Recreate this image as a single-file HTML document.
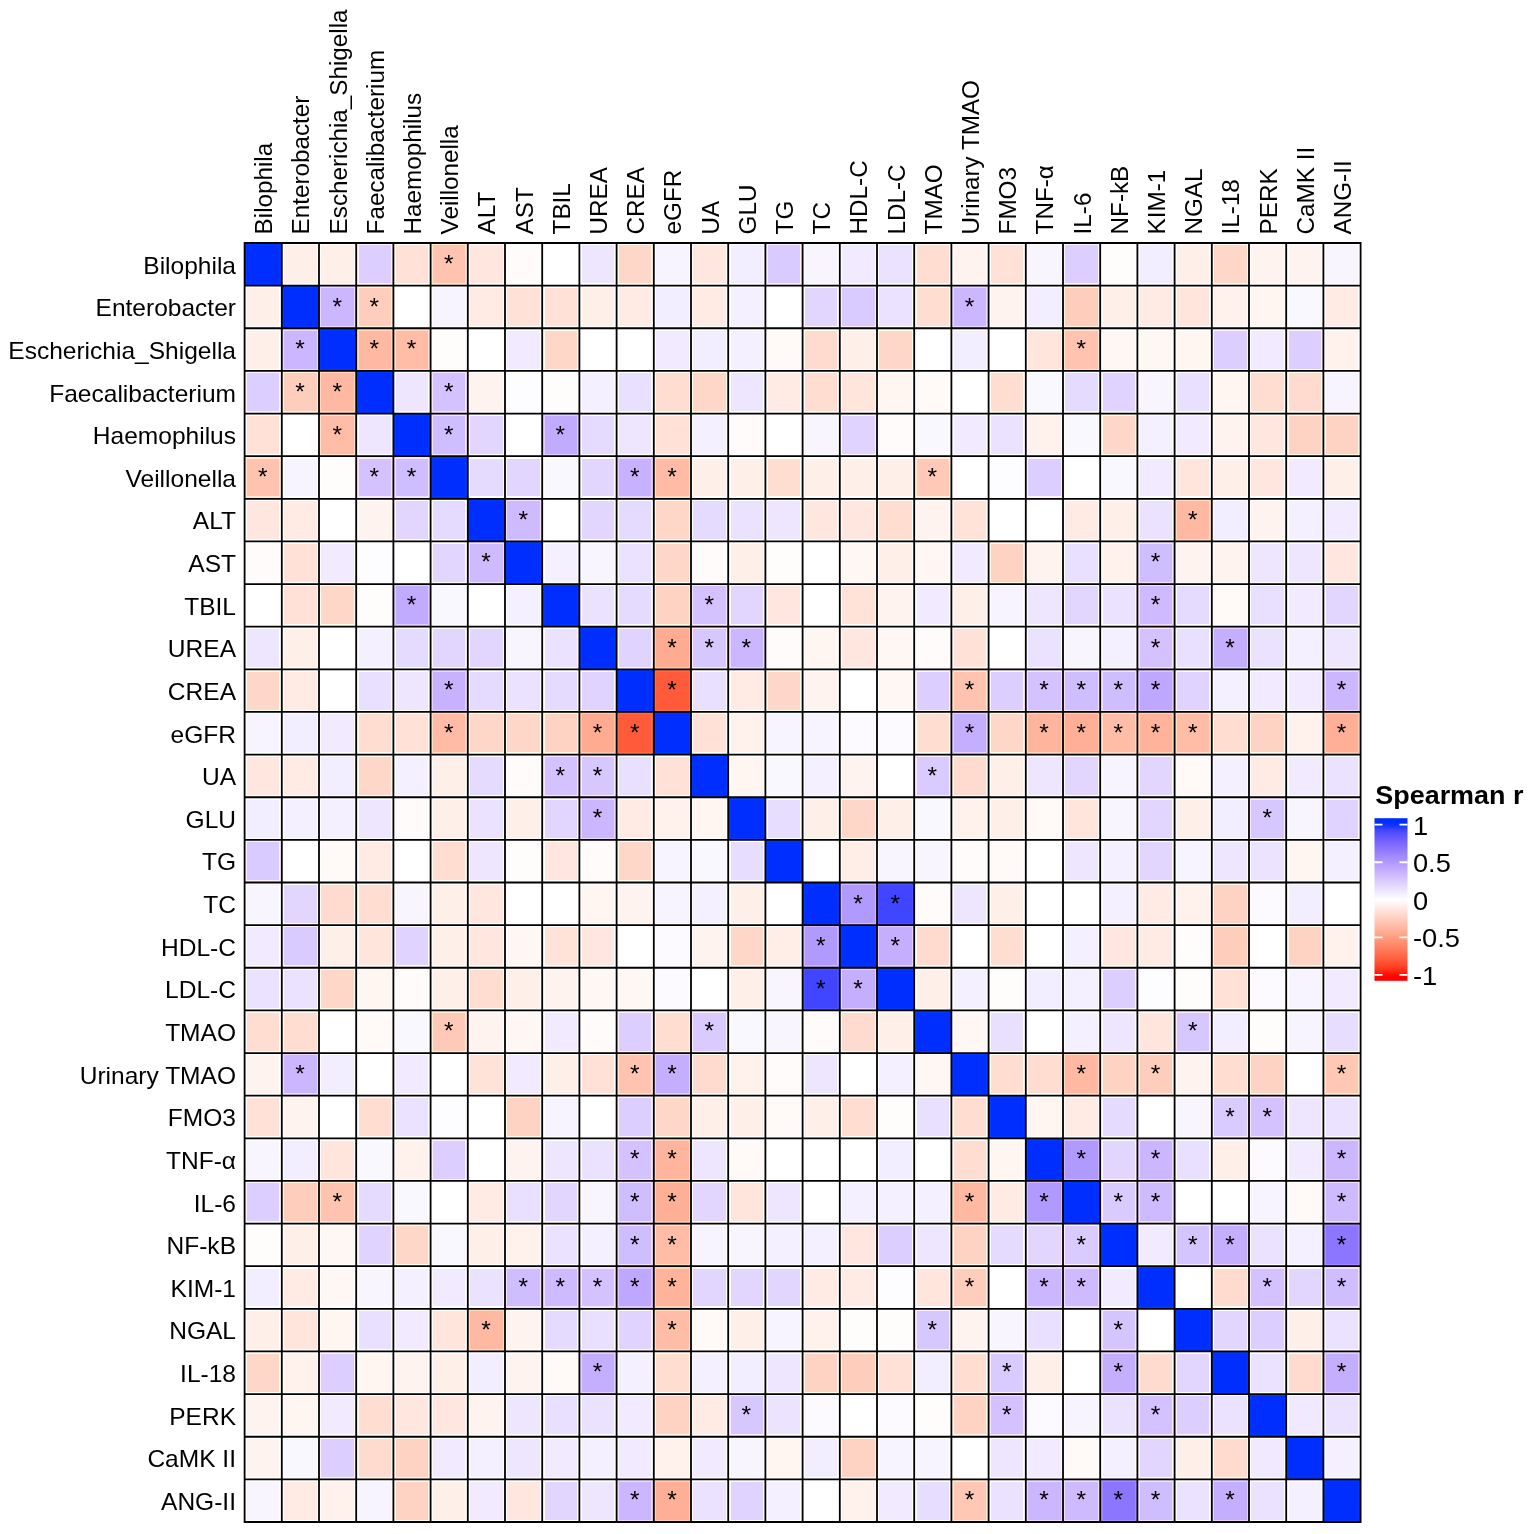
<!DOCTYPE html>
<html lang="en"><head><meta charset="utf-8"><title>Spearman correlation heatmap</title>
<style>html,body{margin:0;padding:0;background:#fff}body{width:1535px;height:1534px;overflow:hidden}svg{display:block}text{font-family:"Liberation Sans",Arial,Helvetica,sans-serif;fill:#000}</style></head><body>
<svg width="1535" height="1534" viewBox="0 0 1535 1534">
<rect width="1535" height="1534" fill="#fff"/>
<g shape-rendering="crispEdges">
<rect x="244.60" y="243.00" width="37.20" height="42.63" fill="#0036ff"/>
<rect x="246.95" y="245.35" width="32.50" height="37.93" fill="#002eff"/>
<rect x="281.80" y="243.00" width="37.20" height="42.63" fill="#ffffff"/>
<rect x="284.15" y="245.35" width="32.50" height="37.93" fill="#ffefe9"/>
<rect x="319.00" y="243.00" width="37.20" height="42.63" fill="#ffffff"/>
<rect x="321.35" y="245.35" width="32.50" height="37.93" fill="#ffefe9"/>
<rect x="356.20" y="243.00" width="37.20" height="42.63" fill="#fff3ff"/>
<rect x="358.55" y="245.35" width="32.50" height="37.93" fill="#dcceff"/>
<rect x="393.40" y="243.00" width="37.20" height="42.63" fill="#fffffe"/>
<rect x="395.75" y="245.35" width="32.50" height="37.93" fill="#ffe1d7"/>
<rect x="430.60" y="243.00" width="37.20" height="42.63" fill="#ffe6ce"/>
<rect x="432.95" y="245.35" width="32.50" height="37.93" fill="#ffc3af"/>
<rect x="467.80" y="243.00" width="37.20" height="42.63" fill="#ffffff"/>
<rect x="470.15" y="245.35" width="32.50" height="37.93" fill="#ffe7df"/>
<rect x="505.00" y="243.00" width="37.20" height="42.63" fill="#ffffff"/>
<rect x="507.35" y="245.35" width="32.50" height="37.93" fill="#fffbfa"/>
<rect x="579.40" y="243.00" width="37.20" height="42.63" fill="#ffffff"/>
<rect x="581.75" y="245.35" width="32.50" height="37.93" fill="#eee6ff"/>
<rect x="616.60" y="243.00" width="37.20" height="42.63" fill="#fffeed"/>
<rect x="618.95" y="245.35" width="32.50" height="37.93" fill="#ffd7c9"/>
<rect x="653.80" y="243.00" width="37.20" height="42.63" fill="#ffffff"/>
<rect x="656.15" y="245.35" width="32.50" height="37.93" fill="#f7f3ff"/>
<rect x="691.00" y="243.00" width="37.20" height="42.63" fill="#ffffff"/>
<rect x="693.35" y="245.35" width="32.50" height="37.93" fill="#ffe7df"/>
<rect x="728.20" y="243.00" width="37.20" height="42.63" fill="#ffffff"/>
<rect x="730.55" y="245.35" width="32.50" height="37.93" fill="#f3eeff"/>
<rect x="765.40" y="243.00" width="37.20" height="42.63" fill="#ffeeff"/>
<rect x="767.75" y="245.35" width="32.50" height="37.93" fill="#d9caff"/>
<rect x="802.60" y="243.00" width="37.20" height="42.63" fill="#ffffff"/>
<rect x="804.95" y="245.35" width="32.50" height="37.93" fill="#f8f5ff"/>
<rect x="839.80" y="243.00" width="37.20" height="42.63" fill="#ffffff"/>
<rect x="842.15" y="245.35" width="32.50" height="37.93" fill="#f2ebff"/>
<rect x="877.00" y="243.00" width="37.20" height="42.63" fill="#ffffff"/>
<rect x="879.35" y="245.35" width="32.50" height="37.93" fill="#ebe2ff"/>
<rect x="914.20" y="243.00" width="37.20" height="42.63" fill="#fffff7"/>
<rect x="916.55" y="245.35" width="32.50" height="37.93" fill="#ffddd1"/>
<rect x="951.40" y="243.00" width="37.20" height="42.63" fill="#ffffff"/>
<rect x="953.75" y="245.35" width="32.50" height="37.93" fill="#fff3ef"/>
<rect x="988.60" y="243.00" width="37.20" height="42.63" fill="#fffffe"/>
<rect x="990.95" y="245.35" width="32.50" height="37.93" fill="#ffe1d7"/>
<rect x="1025.80" y="243.00" width="37.20" height="42.63" fill="#ffffff"/>
<rect x="1028.15" y="245.35" width="32.50" height="37.93" fill="#f8f5ff"/>
<rect x="1063.00" y="243.00" width="37.20" height="42.63" fill="#fff3ff"/>
<rect x="1065.35" y="245.35" width="32.50" height="37.93" fill="#dcceff"/>
<rect x="1100.20" y="243.00" width="37.20" height="42.63" fill="#ffffff"/>
<rect x="1102.55" y="245.35" width="32.50" height="37.93" fill="#fffdfc"/>
<rect x="1137.40" y="243.00" width="37.20" height="42.63" fill="#ffffff"/>
<rect x="1139.75" y="245.35" width="32.50" height="37.93" fill="#f3eeff"/>
<rect x="1174.60" y="243.00" width="37.20" height="42.63" fill="#ffffff"/>
<rect x="1176.95" y="245.35" width="32.50" height="37.93" fill="#ffefe9"/>
<rect x="1211.80" y="243.00" width="37.20" height="42.63" fill="#fffeed"/>
<rect x="1214.15" y="245.35" width="32.50" height="37.93" fill="#ffd7c9"/>
<rect x="1249.00" y="243.00" width="37.20" height="42.63" fill="#ffffff"/>
<rect x="1251.35" y="245.35" width="32.50" height="37.93" fill="#fff3ef"/>
<rect x="1286.20" y="243.00" width="37.20" height="42.63" fill="#ffffff"/>
<rect x="1288.55" y="245.35" width="32.50" height="37.93" fill="#fff3ef"/>
<rect x="1323.40" y="243.00" width="37.20" height="42.63" fill="#ffffff"/>
<rect x="1325.75" y="245.35" width="32.50" height="37.93" fill="#f8f5ff"/>
<rect x="244.60" y="285.63" width="37.20" height="42.63" fill="#ffffff"/>
<rect x="246.95" y="287.98" width="32.50" height="37.93" fill="#ffefe9"/>
<rect x="281.80" y="285.63" width="37.20" height="42.63" fill="#0036ff"/>
<rect x="284.15" y="287.98" width="32.50" height="37.93" fill="#002eff"/>
<rect x="319.00" y="285.63" width="37.20" height="42.63" fill="#eed8ff"/>
<rect x="321.35" y="287.98" width="32.50" height="37.93" fill="#cab7ff"/>
<rect x="356.20" y="285.63" width="37.20" height="42.63" fill="#fff2de"/>
<rect x="358.55" y="287.98" width="32.50" height="37.93" fill="#ffcdbc"/>
<rect x="430.60" y="285.63" width="37.20" height="42.63" fill="#ffffff"/>
<rect x="432.95" y="287.98" width="32.50" height="37.93" fill="#f7f3ff"/>
<rect x="467.80" y="285.63" width="37.20" height="42.63" fill="#ffffff"/>
<rect x="470.15" y="287.98" width="32.50" height="37.93" fill="#ffebe4"/>
<rect x="505.00" y="285.63" width="37.20" height="42.63" fill="#fffffe"/>
<rect x="507.35" y="287.98" width="32.50" height="37.93" fill="#ffe1d7"/>
<rect x="542.20" y="285.63" width="37.20" height="42.63" fill="#fffffe"/>
<rect x="544.55" y="287.98" width="32.50" height="37.93" fill="#ffe1d7"/>
<rect x="579.40" y="285.63" width="37.20" height="42.63" fill="#ffffff"/>
<rect x="581.75" y="287.98" width="32.50" height="37.93" fill="#ffefe9"/>
<rect x="616.60" y="285.63" width="37.20" height="42.63" fill="#ffffff"/>
<rect x="618.95" y="287.98" width="32.50" height="37.93" fill="#ffebe4"/>
<rect x="653.80" y="285.63" width="37.20" height="42.63" fill="#ffffff"/>
<rect x="656.15" y="287.98" width="32.50" height="37.93" fill="#f3eeff"/>
<rect x="691.00" y="285.63" width="37.20" height="42.63" fill="#ffffff"/>
<rect x="693.35" y="287.98" width="32.50" height="37.93" fill="#ffebe4"/>
<rect x="728.20" y="285.63" width="37.20" height="42.63" fill="#ffffff"/>
<rect x="730.55" y="287.98" width="32.50" height="37.93" fill="#f5f0ff"/>
<rect x="802.60" y="285.63" width="37.20" height="42.63" fill="#fffdff"/>
<rect x="804.95" y="287.98" width="32.50" height="37.93" fill="#e2d6ff"/>
<rect x="839.80" y="285.63" width="37.20" height="42.63" fill="#ffeeff"/>
<rect x="842.15" y="287.98" width="32.50" height="37.93" fill="#d9caff"/>
<rect x="877.00" y="285.63" width="37.20" height="42.63" fill="#ffffff"/>
<rect x="879.35" y="287.98" width="32.50" height="37.93" fill="#ebe2ff"/>
<rect x="914.20" y="285.63" width="37.20" height="42.63" fill="#fffff7"/>
<rect x="916.55" y="287.98" width="32.50" height="37.93" fill="#ffddd1"/>
<rect x="951.40" y="285.63" width="37.20" height="42.63" fill="#eed8ff"/>
<rect x="953.75" y="287.98" width="32.50" height="37.93" fill="#cab7ff"/>
<rect x="988.60" y="285.63" width="37.20" height="42.63" fill="#ffffff"/>
<rect x="990.95" y="287.98" width="32.50" height="37.93" fill="#fff3ef"/>
<rect x="1025.80" y="285.63" width="37.20" height="42.63" fill="#ffffff"/>
<rect x="1028.15" y="287.98" width="32.50" height="37.93" fill="#f3eeff"/>
<rect x="1063.00" y="285.63" width="37.20" height="42.63" fill="#fff2de"/>
<rect x="1065.35" y="287.98" width="32.50" height="37.93" fill="#ffcdbc"/>
<rect x="1100.20" y="285.63" width="37.20" height="42.63" fill="#ffffff"/>
<rect x="1102.55" y="287.98" width="32.50" height="37.93" fill="#ffefe9"/>
<rect x="1137.40" y="285.63" width="37.20" height="42.63" fill="#ffffff"/>
<rect x="1139.75" y="287.98" width="32.50" height="37.93" fill="#ffebe4"/>
<rect x="1174.60" y="285.63" width="37.20" height="42.63" fill="#ffffff"/>
<rect x="1176.95" y="287.98" width="32.50" height="37.93" fill="#ffe5dc"/>
<rect x="1211.80" y="285.63" width="37.20" height="42.63" fill="#ffffff"/>
<rect x="1214.15" y="287.98" width="32.50" height="37.93" fill="#fff1ec"/>
<rect x="1249.00" y="285.63" width="37.20" height="42.63" fill="#ffffff"/>
<rect x="1251.35" y="287.98" width="32.50" height="37.93" fill="#fff5f1"/>
<rect x="1286.20" y="285.63" width="37.20" height="42.63" fill="#ffffff"/>
<rect x="1288.55" y="287.98" width="32.50" height="37.93" fill="#faf8ff"/>
<rect x="1323.40" y="285.63" width="37.20" height="42.63" fill="#ffffff"/>
<rect x="1325.75" y="287.98" width="32.50" height="37.93" fill="#ffebe4"/>
<rect x="244.60" y="328.27" width="37.20" height="42.63" fill="#ffffff"/>
<rect x="246.95" y="330.62" width="32.50" height="37.93" fill="#ffefe9"/>
<rect x="281.80" y="328.27" width="37.20" height="42.63" fill="#eed8ff"/>
<rect x="284.15" y="330.62" width="32.50" height="37.93" fill="#cab7ff"/>
<rect x="319.00" y="328.27" width="37.20" height="42.63" fill="#0036ff"/>
<rect x="321.35" y="330.62" width="32.50" height="37.93" fill="#002eff"/>
<rect x="356.20" y="328.27" width="37.20" height="42.63" fill="#ffdabf"/>
<rect x="358.55" y="330.62" width="32.50" height="37.93" fill="#ffb9a2"/>
<rect x="393.40" y="328.27" width="37.20" height="42.63" fill="#ffdfc5"/>
<rect x="395.75" y="330.62" width="32.50" height="37.93" fill="#ffbda7"/>
<rect x="430.60" y="328.27" width="37.20" height="42.63" fill="#ffffff"/>
<rect x="432.95" y="330.62" width="32.50" height="37.93" fill="#fffdfc"/>
<rect x="505.00" y="328.27" width="37.20" height="42.63" fill="#ffffff"/>
<rect x="507.35" y="330.62" width="32.50" height="37.93" fill="#f2ebff"/>
<rect x="542.20" y="328.27" width="37.20" height="42.63" fill="#fffeed"/>
<rect x="544.55" y="330.62" width="32.50" height="37.93" fill="#ffd7c9"/>
<rect x="653.80" y="328.27" width="37.20" height="42.63" fill="#ffffff"/>
<rect x="656.15" y="330.62" width="32.50" height="37.93" fill="#f2ebff"/>
<rect x="691.00" y="328.27" width="37.20" height="42.63" fill="#ffffff"/>
<rect x="693.35" y="330.62" width="32.50" height="37.93" fill="#f3eeff"/>
<rect x="728.20" y="328.27" width="37.20" height="42.63" fill="#ffffff"/>
<rect x="730.55" y="330.62" width="32.50" height="37.93" fill="#f5f0ff"/>
<rect x="765.40" y="328.27" width="37.20" height="42.63" fill="#ffffff"/>
<rect x="767.75" y="330.62" width="32.50" height="37.93" fill="#fff9f7"/>
<rect x="802.60" y="328.27" width="37.20" height="42.63" fill="#fffff4"/>
<rect x="804.95" y="330.62" width="32.50" height="37.93" fill="#ffdbcf"/>
<rect x="839.80" y="328.27" width="37.20" height="42.63" fill="#ffffff"/>
<rect x="842.15" y="330.62" width="32.50" height="37.93" fill="#ffefe9"/>
<rect x="877.00" y="328.27" width="37.20" height="42.63" fill="#fffeed"/>
<rect x="879.35" y="330.62" width="32.50" height="37.93" fill="#ffd7c9"/>
<rect x="951.40" y="328.27" width="37.20" height="42.63" fill="#ffffff"/>
<rect x="953.75" y="330.62" width="32.50" height="37.93" fill="#f3eeff"/>
<rect x="1025.80" y="328.27" width="37.20" height="42.63" fill="#ffffff"/>
<rect x="1028.15" y="330.62" width="32.50" height="37.93" fill="#ffe5dc"/>
<rect x="1063.00" y="328.27" width="37.20" height="42.63" fill="#ffe6ce"/>
<rect x="1065.35" y="330.62" width="32.50" height="37.93" fill="#ffc3af"/>
<rect x="1100.20" y="328.27" width="37.20" height="42.63" fill="#ffffff"/>
<rect x="1102.55" y="330.62" width="32.50" height="37.93" fill="#fff7f4"/>
<rect x="1137.40" y="328.27" width="37.20" height="42.63" fill="#ffffff"/>
<rect x="1139.75" y="330.62" width="32.50" height="37.93" fill="#fff7f4"/>
<rect x="1174.60" y="328.27" width="37.20" height="42.63" fill="#ffffff"/>
<rect x="1176.95" y="330.62" width="32.50" height="37.93" fill="#fff5f1"/>
<rect x="1211.80" y="328.27" width="37.20" height="42.63" fill="#fff3ff"/>
<rect x="1214.15" y="330.62" width="32.50" height="37.93" fill="#dcceff"/>
<rect x="1249.00" y="328.27" width="37.20" height="42.63" fill="#ffffff"/>
<rect x="1251.35" y="330.62" width="32.50" height="37.93" fill="#f2ebff"/>
<rect x="1286.20" y="328.27" width="37.20" height="42.63" fill="#fff3ff"/>
<rect x="1288.55" y="330.62" width="32.50" height="37.93" fill="#dcceff"/>
<rect x="1323.40" y="328.27" width="37.20" height="42.63" fill="#ffffff"/>
<rect x="1325.75" y="330.62" width="32.50" height="37.93" fill="#fff1ec"/>
<rect x="244.60" y="370.90" width="37.20" height="42.63" fill="#fff3ff"/>
<rect x="246.95" y="373.25" width="32.50" height="37.93" fill="#dcceff"/>
<rect x="281.80" y="370.90" width="37.20" height="42.63" fill="#fff2de"/>
<rect x="284.15" y="373.25" width="32.50" height="37.93" fill="#ffcdbc"/>
<rect x="319.00" y="370.90" width="37.20" height="42.63" fill="#ffdabf"/>
<rect x="321.35" y="373.25" width="32.50" height="37.93" fill="#ffb9a2"/>
<rect x="356.20" y="370.90" width="37.20" height="42.63" fill="#0036ff"/>
<rect x="358.55" y="373.25" width="32.50" height="37.93" fill="#002eff"/>
<rect x="393.40" y="370.90" width="37.20" height="42.63" fill="#ffffff"/>
<rect x="395.75" y="373.25" width="32.50" height="37.93" fill="#eee6ff"/>
<rect x="430.60" y="370.90" width="37.20" height="42.63" fill="#f9e5ff"/>
<rect x="432.95" y="373.25" width="32.50" height="37.93" fill="#d3c2ff"/>
<rect x="467.80" y="370.90" width="37.20" height="42.63" fill="#ffffff"/>
<rect x="470.15" y="373.25" width="32.50" height="37.93" fill="#fff3ef"/>
<rect x="505.00" y="370.90" width="37.20" height="42.63" fill="#ffffff"/>
<rect x="507.35" y="373.25" width="32.50" height="37.93" fill="#fdfdff"/>
<rect x="542.20" y="370.90" width="37.20" height="42.63" fill="#ffffff"/>
<rect x="544.55" y="373.25" width="32.50" height="37.93" fill="#fffdfc"/>
<rect x="579.40" y="370.90" width="37.20" height="42.63" fill="#ffffff"/>
<rect x="581.75" y="373.25" width="32.50" height="37.93" fill="#f5f0ff"/>
<rect x="616.60" y="370.90" width="37.20" height="42.63" fill="#ffffff"/>
<rect x="618.95" y="373.25" width="32.50" height="37.93" fill="#e9dfff"/>
<rect x="653.80" y="370.90" width="37.20" height="42.63" fill="#fffff7"/>
<rect x="656.15" y="373.25" width="32.50" height="37.93" fill="#ffddd1"/>
<rect x="691.00" y="370.90" width="37.20" height="42.63" fill="#fffeed"/>
<rect x="693.35" y="373.25" width="32.50" height="37.93" fill="#ffd7c9"/>
<rect x="728.20" y="370.90" width="37.20" height="42.63" fill="#ffffff"/>
<rect x="730.55" y="373.25" width="32.50" height="37.93" fill="#eee6ff"/>
<rect x="765.40" y="370.90" width="37.20" height="42.63" fill="#ffffff"/>
<rect x="767.75" y="373.25" width="32.50" height="37.93" fill="#ffebe4"/>
<rect x="802.60" y="370.90" width="37.20" height="42.63" fill="#fffff7"/>
<rect x="804.95" y="373.25" width="32.50" height="37.93" fill="#ffddd1"/>
<rect x="839.80" y="370.90" width="37.20" height="42.63" fill="#ffffff"/>
<rect x="842.15" y="373.25" width="32.50" height="37.93" fill="#ffe5dc"/>
<rect x="877.00" y="370.90" width="37.20" height="42.63" fill="#ffffff"/>
<rect x="879.35" y="373.25" width="32.50" height="37.93" fill="#fff5f1"/>
<rect x="914.20" y="370.90" width="37.20" height="42.63" fill="#ffffff"/>
<rect x="916.55" y="373.25" width="32.50" height="37.93" fill="#fff9f7"/>
<rect x="988.60" y="370.90" width="37.20" height="42.63" fill="#fffff7"/>
<rect x="990.95" y="373.25" width="32.50" height="37.93" fill="#ffddd1"/>
<rect x="1025.80" y="370.90" width="37.20" height="42.63" fill="#ffffff"/>
<rect x="1028.15" y="373.25" width="32.50" height="37.93" fill="#faf8ff"/>
<rect x="1063.00" y="370.90" width="37.20" height="42.63" fill="#ffffff"/>
<rect x="1065.35" y="373.25" width="32.50" height="37.93" fill="#e5daff"/>
<rect x="1100.20" y="370.90" width="37.20" height="42.63" fill="#fff9ff"/>
<rect x="1102.55" y="373.25" width="32.50" height="37.93" fill="#e0d3ff"/>
<rect x="1137.40" y="370.90" width="37.20" height="42.63" fill="#ffffff"/>
<rect x="1139.75" y="373.25" width="32.50" height="37.93" fill="#f8f5ff"/>
<rect x="1174.60" y="370.90" width="37.20" height="42.63" fill="#ffffff"/>
<rect x="1176.95" y="373.25" width="32.50" height="37.93" fill="#e9dfff"/>
<rect x="1211.80" y="370.90" width="37.20" height="42.63" fill="#ffffff"/>
<rect x="1214.15" y="373.25" width="32.50" height="37.93" fill="#fff5f1"/>
<rect x="1249.00" y="370.90" width="37.20" height="42.63" fill="#fffff7"/>
<rect x="1251.35" y="373.25" width="32.50" height="37.93" fill="#ffddd1"/>
<rect x="1286.20" y="370.90" width="37.20" height="42.63" fill="#fffff4"/>
<rect x="1288.55" y="373.25" width="32.50" height="37.93" fill="#ffdbcf"/>
<rect x="1323.40" y="370.90" width="37.20" height="42.63" fill="#ffffff"/>
<rect x="1325.75" y="373.25" width="32.50" height="37.93" fill="#f7f3ff"/>
<rect x="244.60" y="413.53" width="37.20" height="42.63" fill="#fffffe"/>
<rect x="246.95" y="415.88" width="32.50" height="37.93" fill="#ffe1d7"/>
<rect x="319.00" y="413.53" width="37.20" height="42.63" fill="#ffdfc5"/>
<rect x="321.35" y="415.88" width="32.50" height="37.93" fill="#ffbda7"/>
<rect x="356.20" y="413.53" width="37.20" height="42.63" fill="#ffffff"/>
<rect x="358.55" y="415.88" width="32.50" height="37.93" fill="#eee6ff"/>
<rect x="393.40" y="413.53" width="37.20" height="42.63" fill="#0036ff"/>
<rect x="395.75" y="415.88" width="32.50" height="37.93" fill="#002eff"/>
<rect x="430.60" y="413.53" width="37.20" height="42.63" fill="#f4e0ff"/>
<rect x="432.95" y="415.88" width="32.50" height="37.93" fill="#cfbeff"/>
<rect x="467.80" y="413.53" width="37.20" height="42.63" fill="#fffdff"/>
<rect x="470.15" y="415.88" width="32.50" height="37.93" fill="#e2d6ff"/>
<rect x="542.20" y="413.53" width="37.20" height="42.63" fill="#e3caff"/>
<rect x="544.55" y="415.88" width="32.50" height="37.93" fill="#c0abff"/>
<rect x="579.40" y="413.53" width="37.20" height="42.63" fill="#ffffff"/>
<rect x="581.75" y="415.88" width="32.50" height="37.93" fill="#e5daff"/>
<rect x="616.60" y="413.53" width="37.20" height="42.63" fill="#ffffff"/>
<rect x="618.95" y="415.88" width="32.50" height="37.93" fill="#eee6ff"/>
<rect x="653.80" y="413.53" width="37.20" height="42.63" fill="#fffffe"/>
<rect x="656.15" y="415.88" width="32.50" height="37.93" fill="#ffe1d7"/>
<rect x="691.00" y="413.53" width="37.20" height="42.63" fill="#ffffff"/>
<rect x="693.35" y="415.88" width="32.50" height="37.93" fill="#f5f0ff"/>
<rect x="728.20" y="413.53" width="37.20" height="42.63" fill="#ffffff"/>
<rect x="730.55" y="415.88" width="32.50" height="37.93" fill="#fffbfa"/>
<rect x="802.60" y="413.53" width="37.20" height="42.63" fill="#ffffff"/>
<rect x="804.95" y="415.88" width="32.50" height="37.93" fill="#f8f5ff"/>
<rect x="839.80" y="413.53" width="37.20" height="42.63" fill="#fff9ff"/>
<rect x="842.15" y="415.88" width="32.50" height="37.93" fill="#e0d3ff"/>
<rect x="877.00" y="413.53" width="37.20" height="42.63" fill="#ffffff"/>
<rect x="879.35" y="415.88" width="32.50" height="37.93" fill="#fffbfa"/>
<rect x="914.20" y="413.53" width="37.20" height="42.63" fill="#ffffff"/>
<rect x="916.55" y="415.88" width="32.50" height="37.93" fill="#faf8ff"/>
<rect x="951.40" y="413.53" width="37.20" height="42.63" fill="#ffffff"/>
<rect x="953.75" y="415.88" width="32.50" height="37.93" fill="#f2ebff"/>
<rect x="988.60" y="413.53" width="37.20" height="42.63" fill="#ffffff"/>
<rect x="990.95" y="415.88" width="32.50" height="37.93" fill="#ebe2ff"/>
<rect x="1025.80" y="413.53" width="37.20" height="42.63" fill="#ffffff"/>
<rect x="1028.15" y="415.88" width="32.50" height="37.93" fill="#fff1ec"/>
<rect x="1063.00" y="413.53" width="37.20" height="42.63" fill="#ffffff"/>
<rect x="1065.35" y="415.88" width="32.50" height="37.93" fill="#faf8ff"/>
<rect x="1100.20" y="413.53" width="37.20" height="42.63" fill="#fffeed"/>
<rect x="1102.55" y="415.88" width="32.50" height="37.93" fill="#ffd7c9"/>
<rect x="1137.40" y="413.53" width="37.20" height="42.63" fill="#ffffff"/>
<rect x="1139.75" y="415.88" width="32.50" height="37.93" fill="#f5f0ff"/>
<rect x="1174.60" y="413.53" width="37.20" height="42.63" fill="#ffffff"/>
<rect x="1176.95" y="415.88" width="32.50" height="37.93" fill="#f2ebff"/>
<rect x="1211.80" y="413.53" width="37.20" height="42.63" fill="#ffffff"/>
<rect x="1214.15" y="415.88" width="32.50" height="37.93" fill="#fff3ef"/>
<rect x="1249.00" y="413.53" width="37.20" height="42.63" fill="#ffffff"/>
<rect x="1251.35" y="415.88" width="32.50" height="37.93" fill="#ffe7df"/>
<rect x="1286.20" y="413.53" width="37.20" height="42.63" fill="#fff9e7"/>
<rect x="1288.55" y="415.88" width="32.50" height="37.93" fill="#ffd3c4"/>
<rect x="1323.40" y="413.53" width="37.20" height="42.63" fill="#fff9e7"/>
<rect x="1325.75" y="415.88" width="32.50" height="37.93" fill="#ffd3c4"/>
<rect x="244.60" y="456.17" width="37.20" height="42.63" fill="#ffe6ce"/>
<rect x="246.95" y="458.52" width="32.50" height="37.93" fill="#ffc3af"/>
<rect x="281.80" y="456.17" width="37.20" height="42.63" fill="#ffffff"/>
<rect x="284.15" y="458.52" width="32.50" height="37.93" fill="#f7f3ff"/>
<rect x="319.00" y="456.17" width="37.20" height="42.63" fill="#ffffff"/>
<rect x="321.35" y="458.52" width="32.50" height="37.93" fill="#fffdfc"/>
<rect x="356.20" y="456.17" width="37.20" height="42.63" fill="#f9e5ff"/>
<rect x="358.55" y="458.52" width="32.50" height="37.93" fill="#d3c2ff"/>
<rect x="393.40" y="456.17" width="37.20" height="42.63" fill="#f4e0ff"/>
<rect x="395.75" y="458.52" width="32.50" height="37.93" fill="#cfbeff"/>
<rect x="430.60" y="456.17" width="37.20" height="42.63" fill="#0036ff"/>
<rect x="432.95" y="458.52" width="32.50" height="37.93" fill="#002eff"/>
<rect x="467.80" y="456.17" width="37.20" height="42.63" fill="#ffffff"/>
<rect x="470.15" y="458.52" width="32.50" height="37.93" fill="#e5daff"/>
<rect x="505.00" y="456.17" width="37.20" height="42.63" fill="#fffdff"/>
<rect x="507.35" y="458.52" width="32.50" height="37.93" fill="#e2d6ff"/>
<rect x="542.20" y="456.17" width="37.20" height="42.63" fill="#ffffff"/>
<rect x="544.55" y="458.52" width="32.50" height="37.93" fill="#faf8ff"/>
<rect x="579.40" y="456.17" width="37.20" height="42.63" fill="#fffdff"/>
<rect x="581.75" y="458.52" width="32.50" height="37.93" fill="#e2d6ff"/>
<rect x="616.60" y="456.17" width="37.20" height="42.63" fill="#ead2ff"/>
<rect x="618.95" y="458.52" width="32.50" height="37.93" fill="#c6b2ff"/>
<rect x="653.80" y="456.17" width="37.20" height="42.63" fill="#ffddc3"/>
<rect x="656.15" y="458.52" width="32.50" height="37.93" fill="#ffbba5"/>
<rect x="691.00" y="456.17" width="37.20" height="42.63" fill="#ffffff"/>
<rect x="693.35" y="458.52" width="32.50" height="37.93" fill="#ffefe9"/>
<rect x="728.20" y="456.17" width="37.20" height="42.63" fill="#ffffff"/>
<rect x="730.55" y="458.52" width="32.50" height="37.93" fill="#ffefe9"/>
<rect x="765.40" y="456.17" width="37.20" height="42.63" fill="#fffff7"/>
<rect x="767.75" y="458.52" width="32.50" height="37.93" fill="#ffddd1"/>
<rect x="802.60" y="456.17" width="37.20" height="42.63" fill="#ffffff"/>
<rect x="804.95" y="458.52" width="32.50" height="37.93" fill="#ffefe9"/>
<rect x="839.80" y="456.17" width="37.20" height="42.63" fill="#ffffff"/>
<rect x="842.15" y="458.52" width="32.50" height="37.93" fill="#ffefe9"/>
<rect x="877.00" y="456.17" width="37.20" height="42.63" fill="#ffffff"/>
<rect x="879.35" y="458.52" width="32.50" height="37.93" fill="#ffefe9"/>
<rect x="914.20" y="456.17" width="37.20" height="42.63" fill="#ffedd8"/>
<rect x="916.55" y="458.52" width="32.50" height="37.93" fill="#ffc9b7"/>
<rect x="988.60" y="456.17" width="37.20" height="42.63" fill="#ffffff"/>
<rect x="990.95" y="458.52" width="32.50" height="37.93" fill="#fdfdff"/>
<rect x="1025.80" y="456.17" width="37.20" height="42.63" fill="#fff3ff"/>
<rect x="1028.15" y="458.52" width="32.50" height="37.93" fill="#dcceff"/>
<rect x="1100.20" y="456.17" width="37.20" height="42.63" fill="#ffffff"/>
<rect x="1102.55" y="458.52" width="32.50" height="37.93" fill="#faf8ff"/>
<rect x="1137.40" y="456.17" width="37.20" height="42.63" fill="#ffffff"/>
<rect x="1139.75" y="458.52" width="32.50" height="37.93" fill="#f2ebff"/>
<rect x="1174.60" y="456.17" width="37.20" height="42.63" fill="#ffffff"/>
<rect x="1176.95" y="458.52" width="32.50" height="37.93" fill="#ffe5dc"/>
<rect x="1211.80" y="456.17" width="37.20" height="42.63" fill="#ffffff"/>
<rect x="1214.15" y="458.52" width="32.50" height="37.93" fill="#ffefe9"/>
<rect x="1249.00" y="456.17" width="37.20" height="42.63" fill="#ffffff"/>
<rect x="1251.35" y="458.52" width="32.50" height="37.93" fill="#ffe7df"/>
<rect x="1286.20" y="456.17" width="37.20" height="42.63" fill="#ffffff"/>
<rect x="1288.55" y="458.52" width="32.50" height="37.93" fill="#f2ebff"/>
<rect x="1323.40" y="456.17" width="37.20" height="42.63" fill="#ffffff"/>
<rect x="1325.75" y="458.52" width="32.50" height="37.93" fill="#ffefe9"/>
<rect x="244.60" y="498.80" width="37.20" height="42.63" fill="#ffffff"/>
<rect x="246.95" y="501.15" width="32.50" height="37.93" fill="#ffe7df"/>
<rect x="281.80" y="498.80" width="37.20" height="42.63" fill="#ffffff"/>
<rect x="284.15" y="501.15" width="32.50" height="37.93" fill="#ffebe4"/>
<rect x="356.20" y="498.80" width="37.20" height="42.63" fill="#ffffff"/>
<rect x="358.55" y="501.15" width="32.50" height="37.93" fill="#fff3ef"/>
<rect x="393.40" y="498.80" width="37.20" height="42.63" fill="#fffdff"/>
<rect x="395.75" y="501.15" width="32.50" height="37.93" fill="#e2d6ff"/>
<rect x="430.60" y="498.80" width="37.20" height="42.63" fill="#ffffff"/>
<rect x="432.95" y="501.15" width="32.50" height="37.93" fill="#e5daff"/>
<rect x="467.80" y="498.80" width="37.20" height="42.63" fill="#0036ff"/>
<rect x="470.15" y="501.15" width="32.50" height="37.93" fill="#002eff"/>
<rect x="505.00" y="498.80" width="37.20" height="42.63" fill="#f3ddff"/>
<rect x="507.35" y="501.15" width="32.50" height="37.93" fill="#cebbff"/>
<rect x="579.40" y="498.80" width="37.20" height="42.63" fill="#fffdff"/>
<rect x="581.75" y="501.15" width="32.50" height="37.93" fill="#e2d6ff"/>
<rect x="616.60" y="498.80" width="37.20" height="42.63" fill="#ffffff"/>
<rect x="618.95" y="501.15" width="32.50" height="37.93" fill="#e5daff"/>
<rect x="653.80" y="498.80" width="37.20" height="42.63" fill="#fffeed"/>
<rect x="656.15" y="501.15" width="32.50" height="37.93" fill="#ffd7c9"/>
<rect x="691.00" y="498.80" width="37.20" height="42.63" fill="#ffffff"/>
<rect x="693.35" y="501.15" width="32.50" height="37.93" fill="#e5daff"/>
<rect x="728.20" y="498.80" width="37.20" height="42.63" fill="#ffffff"/>
<rect x="730.55" y="501.15" width="32.50" height="37.93" fill="#ebe2ff"/>
<rect x="765.40" y="498.80" width="37.20" height="42.63" fill="#ffffff"/>
<rect x="767.75" y="501.15" width="32.50" height="37.93" fill="#eee6ff"/>
<rect x="802.60" y="498.80" width="37.20" height="42.63" fill="#ffffff"/>
<rect x="804.95" y="501.15" width="32.50" height="37.93" fill="#ffe7df"/>
<rect x="839.80" y="498.80" width="37.20" height="42.63" fill="#ffffff"/>
<rect x="842.15" y="501.15" width="32.50" height="37.93" fill="#ffe7df"/>
<rect x="877.00" y="498.80" width="37.20" height="42.63" fill="#fffff7"/>
<rect x="879.35" y="501.15" width="32.50" height="37.93" fill="#ffddd1"/>
<rect x="914.20" y="498.80" width="37.20" height="42.63" fill="#ffffff"/>
<rect x="916.55" y="501.15" width="32.50" height="37.93" fill="#fff3ef"/>
<rect x="951.40" y="498.80" width="37.20" height="42.63" fill="#ffffff"/>
<rect x="953.75" y="501.15" width="32.50" height="37.93" fill="#ffe3d9"/>
<rect x="1063.00" y="498.80" width="37.20" height="42.63" fill="#ffffff"/>
<rect x="1065.35" y="501.15" width="32.50" height="37.93" fill="#ffebe4"/>
<rect x="1100.20" y="498.80" width="37.20" height="42.63" fill="#ffffff"/>
<rect x="1102.55" y="501.15" width="32.50" height="37.93" fill="#ffefe9"/>
<rect x="1137.40" y="498.80" width="37.20" height="42.63" fill="#ffffff"/>
<rect x="1139.75" y="501.15" width="32.50" height="37.93" fill="#ebe2ff"/>
<rect x="1174.60" y="498.80" width="37.20" height="42.63" fill="#ffdabf"/>
<rect x="1176.95" y="501.15" width="32.50" height="37.93" fill="#ffb9a2"/>
<rect x="1211.80" y="498.80" width="37.20" height="42.63" fill="#ffffff"/>
<rect x="1214.15" y="501.15" width="32.50" height="37.93" fill="#f3eeff"/>
<rect x="1249.00" y="498.80" width="37.20" height="42.63" fill="#ffffff"/>
<rect x="1251.35" y="501.15" width="32.50" height="37.93" fill="#fff3ef"/>
<rect x="1286.20" y="498.80" width="37.20" height="42.63" fill="#ffffff"/>
<rect x="1288.55" y="501.15" width="32.50" height="37.93" fill="#f5f0ff"/>
<rect x="1323.40" y="498.80" width="37.20" height="42.63" fill="#ffffff"/>
<rect x="1325.75" y="501.15" width="32.50" height="37.93" fill="#f2ebff"/>
<rect x="244.60" y="541.43" width="37.20" height="42.63" fill="#ffffff"/>
<rect x="246.95" y="543.78" width="32.50" height="37.93" fill="#fffbfa"/>
<rect x="281.80" y="541.43" width="37.20" height="42.63" fill="#fffffe"/>
<rect x="284.15" y="543.78" width="32.50" height="37.93" fill="#ffe1d7"/>
<rect x="319.00" y="541.43" width="37.20" height="42.63" fill="#ffffff"/>
<rect x="321.35" y="543.78" width="32.50" height="37.93" fill="#f2ebff"/>
<rect x="356.20" y="541.43" width="37.20" height="42.63" fill="#ffffff"/>
<rect x="358.55" y="543.78" width="32.50" height="37.93" fill="#fdfdff"/>
<rect x="430.60" y="541.43" width="37.20" height="42.63" fill="#fffdff"/>
<rect x="432.95" y="543.78" width="32.50" height="37.93" fill="#e2d6ff"/>
<rect x="467.80" y="541.43" width="37.20" height="42.63" fill="#f3ddff"/>
<rect x="470.15" y="543.78" width="32.50" height="37.93" fill="#cebbff"/>
<rect x="505.00" y="541.43" width="37.20" height="42.63" fill="#0036ff"/>
<rect x="507.35" y="543.78" width="32.50" height="37.93" fill="#002eff"/>
<rect x="542.20" y="541.43" width="37.20" height="42.63" fill="#ffffff"/>
<rect x="544.55" y="543.78" width="32.50" height="37.93" fill="#f5f0ff"/>
<rect x="579.40" y="541.43" width="37.20" height="42.63" fill="#ffffff"/>
<rect x="581.75" y="543.78" width="32.50" height="37.93" fill="#f8f5ff"/>
<rect x="616.60" y="541.43" width="37.20" height="42.63" fill="#ffffff"/>
<rect x="618.95" y="543.78" width="32.50" height="37.93" fill="#ebe2ff"/>
<rect x="653.80" y="541.43" width="37.20" height="42.63" fill="#fffeed"/>
<rect x="656.15" y="543.78" width="32.50" height="37.93" fill="#ffd7c9"/>
<rect x="691.00" y="541.43" width="37.20" height="42.63" fill="#ffffff"/>
<rect x="693.35" y="543.78" width="32.50" height="37.93" fill="#fffbfa"/>
<rect x="728.20" y="541.43" width="37.20" height="42.63" fill="#ffffff"/>
<rect x="730.55" y="543.78" width="32.50" height="37.93" fill="#ffefe9"/>
<rect x="765.40" y="541.43" width="37.20" height="42.63" fill="#ffffff"/>
<rect x="767.75" y="543.78" width="32.50" height="37.93" fill="#fffdfc"/>
<rect x="839.80" y="541.43" width="37.20" height="42.63" fill="#ffffff"/>
<rect x="842.15" y="543.78" width="32.50" height="37.93" fill="#fff7f4"/>
<rect x="877.00" y="541.43" width="37.20" height="42.63" fill="#ffffff"/>
<rect x="879.35" y="543.78" width="32.50" height="37.93" fill="#ffefe9"/>
<rect x="914.20" y="541.43" width="37.20" height="42.63" fill="#ffffff"/>
<rect x="916.55" y="543.78" width="32.50" height="37.93" fill="#fff7f4"/>
<rect x="951.40" y="541.43" width="37.20" height="42.63" fill="#ffffff"/>
<rect x="953.75" y="543.78" width="32.50" height="37.93" fill="#f2ebff"/>
<rect x="988.60" y="541.43" width="37.20" height="42.63" fill="#fff9e7"/>
<rect x="990.95" y="543.78" width="32.50" height="37.93" fill="#ffd3c4"/>
<rect x="1025.80" y="541.43" width="37.20" height="42.63" fill="#ffffff"/>
<rect x="1028.15" y="543.78" width="32.50" height="37.93" fill="#fff3ef"/>
<rect x="1063.00" y="541.43" width="37.20" height="42.63" fill="#ffffff"/>
<rect x="1065.35" y="543.78" width="32.50" height="37.93" fill="#e9dfff"/>
<rect x="1100.20" y="541.43" width="37.20" height="42.63" fill="#ffffff"/>
<rect x="1102.55" y="543.78" width="32.50" height="37.93" fill="#fff1ec"/>
<rect x="1137.40" y="541.43" width="37.20" height="42.63" fill="#f4e0ff"/>
<rect x="1139.75" y="543.78" width="32.50" height="37.93" fill="#cfbeff"/>
<rect x="1174.60" y="541.43" width="37.20" height="42.63" fill="#ffffff"/>
<rect x="1176.95" y="543.78" width="32.50" height="37.93" fill="#fff3ef"/>
<rect x="1211.80" y="541.43" width="37.20" height="42.63" fill="#ffffff"/>
<rect x="1214.15" y="543.78" width="32.50" height="37.93" fill="#fff3ef"/>
<rect x="1249.00" y="541.43" width="37.20" height="42.63" fill="#ffffff"/>
<rect x="1251.35" y="543.78" width="32.50" height="37.93" fill="#eee6ff"/>
<rect x="1286.20" y="541.43" width="37.20" height="42.63" fill="#ffffff"/>
<rect x="1288.55" y="543.78" width="32.50" height="37.93" fill="#eee6ff"/>
<rect x="1323.40" y="541.43" width="37.20" height="42.63" fill="#ffffff"/>
<rect x="1325.75" y="543.78" width="32.50" height="37.93" fill="#ffe7df"/>
<rect x="281.80" y="584.07" width="37.20" height="42.63" fill="#fffffe"/>
<rect x="284.15" y="586.42" width="32.50" height="37.93" fill="#ffe1d7"/>
<rect x="319.00" y="584.07" width="37.20" height="42.63" fill="#fffeed"/>
<rect x="321.35" y="586.42" width="32.50" height="37.93" fill="#ffd7c9"/>
<rect x="356.20" y="584.07" width="37.20" height="42.63" fill="#ffffff"/>
<rect x="358.55" y="586.42" width="32.50" height="37.93" fill="#fffdfc"/>
<rect x="393.40" y="584.07" width="37.20" height="42.63" fill="#e3caff"/>
<rect x="395.75" y="586.42" width="32.50" height="37.93" fill="#c0abff"/>
<rect x="430.60" y="584.07" width="37.20" height="42.63" fill="#ffffff"/>
<rect x="432.95" y="586.42" width="32.50" height="37.93" fill="#faf8ff"/>
<rect x="505.00" y="584.07" width="37.20" height="42.63" fill="#ffffff"/>
<rect x="507.35" y="586.42" width="32.50" height="37.93" fill="#f5f0ff"/>
<rect x="542.20" y="584.07" width="37.20" height="42.63" fill="#0036ff"/>
<rect x="544.55" y="586.42" width="32.50" height="37.93" fill="#002eff"/>
<rect x="579.40" y="584.07" width="37.20" height="42.63" fill="#ffffff"/>
<rect x="581.75" y="586.42" width="32.50" height="37.93" fill="#ebe2ff"/>
<rect x="616.60" y="584.07" width="37.20" height="42.63" fill="#ffffff"/>
<rect x="618.95" y="586.42" width="32.50" height="37.93" fill="#e5daff"/>
<rect x="653.80" y="584.07" width="37.20" height="42.63" fill="#fff9e7"/>
<rect x="656.15" y="586.42" width="32.50" height="37.93" fill="#ffd3c4"/>
<rect x="691.00" y="584.07" width="37.20" height="42.63" fill="#f9e5ff"/>
<rect x="693.35" y="586.42" width="32.50" height="37.93" fill="#d3c2ff"/>
<rect x="728.20" y="584.07" width="37.20" height="42.63" fill="#fffdff"/>
<rect x="730.55" y="586.42" width="32.50" height="37.93" fill="#e2d6ff"/>
<rect x="765.40" y="584.07" width="37.20" height="42.63" fill="#ffffff"/>
<rect x="767.75" y="586.42" width="32.50" height="37.93" fill="#ffe7df"/>
<rect x="839.80" y="584.07" width="37.20" height="42.63" fill="#ffffff"/>
<rect x="842.15" y="586.42" width="32.50" height="37.93" fill="#ffe3d9"/>
<rect x="877.00" y="584.07" width="37.20" height="42.63" fill="#ffffff"/>
<rect x="879.35" y="586.42" width="32.50" height="37.93" fill="#fff3ef"/>
<rect x="914.20" y="584.07" width="37.20" height="42.63" fill="#ffffff"/>
<rect x="916.55" y="586.42" width="32.50" height="37.93" fill="#f2ebff"/>
<rect x="951.40" y="584.07" width="37.20" height="42.63" fill="#ffffff"/>
<rect x="953.75" y="586.42" width="32.50" height="37.93" fill="#ffefe9"/>
<rect x="988.60" y="584.07" width="37.20" height="42.63" fill="#ffffff"/>
<rect x="990.95" y="586.42" width="32.50" height="37.93" fill="#f7f3ff"/>
<rect x="1025.80" y="584.07" width="37.20" height="42.63" fill="#ffffff"/>
<rect x="1028.15" y="586.42" width="32.50" height="37.93" fill="#eee6ff"/>
<rect x="1063.00" y="584.07" width="37.20" height="42.63" fill="#fffdff"/>
<rect x="1065.35" y="586.42" width="32.50" height="37.93" fill="#e2d6ff"/>
<rect x="1100.20" y="584.07" width="37.20" height="42.63" fill="#ffffff"/>
<rect x="1102.55" y="586.42" width="32.50" height="37.93" fill="#ebe2ff"/>
<rect x="1137.40" y="584.07" width="37.20" height="42.63" fill="#f3ddff"/>
<rect x="1139.75" y="586.42" width="32.50" height="37.93" fill="#cebbff"/>
<rect x="1174.60" y="584.07" width="37.20" height="42.63" fill="#ffffff"/>
<rect x="1176.95" y="586.42" width="32.50" height="37.93" fill="#e5daff"/>
<rect x="1211.80" y="584.07" width="37.20" height="42.63" fill="#ffffff"/>
<rect x="1214.15" y="586.42" width="32.50" height="37.93" fill="#fff9f7"/>
<rect x="1249.00" y="584.07" width="37.20" height="42.63" fill="#ffffff"/>
<rect x="1251.35" y="586.42" width="32.50" height="37.93" fill="#e9dfff"/>
<rect x="1286.20" y="584.07" width="37.20" height="42.63" fill="#ffffff"/>
<rect x="1288.55" y="586.42" width="32.50" height="37.93" fill="#f2ebff"/>
<rect x="1323.40" y="584.07" width="37.20" height="42.63" fill="#fffdff"/>
<rect x="1325.75" y="586.42" width="32.50" height="37.93" fill="#e2d6ff"/>
<rect x="244.60" y="626.70" width="37.20" height="42.63" fill="#ffffff"/>
<rect x="246.95" y="629.05" width="32.50" height="37.93" fill="#eee6ff"/>
<rect x="281.80" y="626.70" width="37.20" height="42.63" fill="#ffffff"/>
<rect x="284.15" y="629.05" width="32.50" height="37.93" fill="#ffefe9"/>
<rect x="356.20" y="626.70" width="37.20" height="42.63" fill="#ffffff"/>
<rect x="358.55" y="629.05" width="32.50" height="37.93" fill="#f5f0ff"/>
<rect x="393.40" y="626.70" width="37.20" height="42.63" fill="#ffffff"/>
<rect x="395.75" y="629.05" width="32.50" height="37.93" fill="#e5daff"/>
<rect x="430.60" y="626.70" width="37.20" height="42.63" fill="#fffdff"/>
<rect x="432.95" y="629.05" width="32.50" height="37.93" fill="#e2d6ff"/>
<rect x="467.80" y="626.70" width="37.20" height="42.63" fill="#fffdff"/>
<rect x="470.15" y="629.05" width="32.50" height="37.93" fill="#e2d6ff"/>
<rect x="505.00" y="626.70" width="37.20" height="42.63" fill="#ffffff"/>
<rect x="507.35" y="629.05" width="32.50" height="37.93" fill="#f8f5ff"/>
<rect x="542.20" y="626.70" width="37.20" height="42.63" fill="#ffffff"/>
<rect x="544.55" y="629.05" width="32.50" height="37.93" fill="#ebe2ff"/>
<rect x="579.40" y="626.70" width="37.20" height="42.63" fill="#0036ff"/>
<rect x="581.75" y="629.05" width="32.50" height="37.93" fill="#002eff"/>
<rect x="616.60" y="626.70" width="37.20" height="42.63" fill="#fff9ff"/>
<rect x="618.95" y="629.05" width="32.50" height="37.93" fill="#e0d3ff"/>
<rect x="653.80" y="626.70" width="37.20" height="42.63" fill="#ffcaab"/>
<rect x="656.15" y="629.05" width="32.50" height="37.93" fill="#ffab91"/>
<rect x="691.00" y="626.70" width="37.20" height="42.63" fill="#feebff"/>
<rect x="693.35" y="629.05" width="32.50" height="37.93" fill="#d7c7ff"/>
<rect x="728.20" y="626.70" width="37.20" height="42.63" fill="#eed8ff"/>
<rect x="730.55" y="629.05" width="32.50" height="37.93" fill="#cab7ff"/>
<rect x="765.40" y="626.70" width="37.20" height="42.63" fill="#ffffff"/>
<rect x="767.75" y="629.05" width="32.50" height="37.93" fill="#fffbfa"/>
<rect x="802.60" y="626.70" width="37.20" height="42.63" fill="#ffffff"/>
<rect x="804.95" y="629.05" width="32.50" height="37.93" fill="#fff5f1"/>
<rect x="839.80" y="626.70" width="37.20" height="42.63" fill="#ffffff"/>
<rect x="842.15" y="629.05" width="32.50" height="37.93" fill="#ffe7df"/>
<rect x="877.00" y="626.70" width="37.20" height="42.63" fill="#ffffff"/>
<rect x="879.35" y="629.05" width="32.50" height="37.93" fill="#fff7f4"/>
<rect x="914.20" y="626.70" width="37.20" height="42.63" fill="#ffffff"/>
<rect x="916.55" y="629.05" width="32.50" height="37.93" fill="#fffbfa"/>
<rect x="951.40" y="626.70" width="37.20" height="42.63" fill="#fffffe"/>
<rect x="953.75" y="629.05" width="32.50" height="37.93" fill="#ffe1d7"/>
<rect x="1025.80" y="626.70" width="37.20" height="42.63" fill="#ffffff"/>
<rect x="1028.15" y="629.05" width="32.50" height="37.93" fill="#ebe2ff"/>
<rect x="1063.00" y="626.70" width="37.20" height="42.63" fill="#ffffff"/>
<rect x="1065.35" y="629.05" width="32.50" height="37.93" fill="#f8f5ff"/>
<rect x="1100.20" y="626.70" width="37.20" height="42.63" fill="#ffffff"/>
<rect x="1102.55" y="629.05" width="32.50" height="37.93" fill="#f5f0ff"/>
<rect x="1137.40" y="626.70" width="37.20" height="42.63" fill="#f9e5ff"/>
<rect x="1139.75" y="629.05" width="32.50" height="37.93" fill="#d3c2ff"/>
<rect x="1174.60" y="626.70" width="37.20" height="42.63" fill="#ffffff"/>
<rect x="1176.95" y="629.05" width="32.50" height="37.93" fill="#e9dfff"/>
<rect x="1211.80" y="626.70" width="37.20" height="42.63" fill="#e7ceff"/>
<rect x="1214.15" y="629.05" width="32.50" height="37.93" fill="#c4afff"/>
<rect x="1249.00" y="626.70" width="37.20" height="42.63" fill="#ffffff"/>
<rect x="1251.35" y="629.05" width="32.50" height="37.93" fill="#ebe2ff"/>
<rect x="1286.20" y="626.70" width="37.20" height="42.63" fill="#ffffff"/>
<rect x="1288.55" y="629.05" width="32.50" height="37.93" fill="#f5f0ff"/>
<rect x="1323.40" y="626.70" width="37.20" height="42.63" fill="#ffffff"/>
<rect x="1325.75" y="629.05" width="32.50" height="37.93" fill="#eee6ff"/>
<rect x="244.60" y="669.33" width="37.20" height="42.63" fill="#fffeed"/>
<rect x="246.95" y="671.68" width="32.50" height="37.93" fill="#ffd7c9"/>
<rect x="281.80" y="669.33" width="37.20" height="42.63" fill="#ffffff"/>
<rect x="284.15" y="671.68" width="32.50" height="37.93" fill="#ffebe4"/>
<rect x="356.20" y="669.33" width="37.20" height="42.63" fill="#ffffff"/>
<rect x="358.55" y="671.68" width="32.50" height="37.93" fill="#e9dfff"/>
<rect x="393.40" y="669.33" width="37.20" height="42.63" fill="#ffffff"/>
<rect x="395.75" y="671.68" width="32.50" height="37.93" fill="#eee6ff"/>
<rect x="430.60" y="669.33" width="37.20" height="42.63" fill="#ead2ff"/>
<rect x="432.95" y="671.68" width="32.50" height="37.93" fill="#c6b2ff"/>
<rect x="467.80" y="669.33" width="37.20" height="42.63" fill="#ffffff"/>
<rect x="470.15" y="671.68" width="32.50" height="37.93" fill="#e5daff"/>
<rect x="505.00" y="669.33" width="37.20" height="42.63" fill="#ffffff"/>
<rect x="507.35" y="671.68" width="32.50" height="37.93" fill="#ebe2ff"/>
<rect x="542.20" y="669.33" width="37.20" height="42.63" fill="#ffffff"/>
<rect x="544.55" y="671.68" width="32.50" height="37.93" fill="#e5daff"/>
<rect x="579.40" y="669.33" width="37.20" height="42.63" fill="#fff9ff"/>
<rect x="581.75" y="671.68" width="32.50" height="37.93" fill="#e0d3ff"/>
<rect x="616.60" y="669.33" width="37.20" height="42.63" fill="#0036ff"/>
<rect x="618.95" y="671.68" width="32.50" height="37.93" fill="#002eff"/>
<rect x="653.80" y="669.33" width="37.20" height="42.63" fill="#ff6b44"/>
<rect x="656.15" y="671.68" width="32.50" height="37.93" fill="#ff5b3a"/>
<rect x="691.00" y="669.33" width="37.20" height="42.63" fill="#ffffff"/>
<rect x="693.35" y="671.68" width="32.50" height="37.93" fill="#e9dfff"/>
<rect x="728.20" y="669.33" width="37.20" height="42.63" fill="#ffffff"/>
<rect x="730.55" y="671.68" width="32.50" height="37.93" fill="#ffebe4"/>
<rect x="765.40" y="669.33" width="37.20" height="42.63" fill="#fffeed"/>
<rect x="767.75" y="671.68" width="32.50" height="37.93" fill="#ffd7c9"/>
<rect x="802.60" y="669.33" width="37.20" height="42.63" fill="#ffffff"/>
<rect x="804.95" y="671.68" width="32.50" height="37.93" fill="#fff3ef"/>
<rect x="877.00" y="669.33" width="37.20" height="42.63" fill="#ffffff"/>
<rect x="879.35" y="671.68" width="32.50" height="37.93" fill="#fff7f4"/>
<rect x="914.20" y="669.33" width="37.20" height="42.63" fill="#fff3ff"/>
<rect x="916.55" y="671.68" width="32.50" height="37.93" fill="#dcceff"/>
<rect x="951.40" y="669.33" width="37.20" height="42.63" fill="#ffe6ce"/>
<rect x="953.75" y="671.68" width="32.50" height="37.93" fill="#ffc3af"/>
<rect x="988.60" y="669.33" width="37.20" height="42.63" fill="#fff3ff"/>
<rect x="990.95" y="671.68" width="32.50" height="37.93" fill="#dcceff"/>
<rect x="1025.80" y="669.33" width="37.20" height="42.63" fill="#f9e5ff"/>
<rect x="1028.15" y="671.68" width="32.50" height="37.93" fill="#d3c2ff"/>
<rect x="1063.00" y="669.33" width="37.20" height="42.63" fill="#f4e0ff"/>
<rect x="1065.35" y="671.68" width="32.50" height="37.93" fill="#cfbeff"/>
<rect x="1100.20" y="669.33" width="37.20" height="42.63" fill="#f4e0ff"/>
<rect x="1102.55" y="671.68" width="32.50" height="37.93" fill="#cfbeff"/>
<rect x="1137.40" y="669.33" width="37.20" height="42.63" fill="#e0c6ff"/>
<rect x="1139.75" y="671.68" width="32.50" height="37.93" fill="#bea8ff"/>
<rect x="1174.60" y="669.33" width="37.20" height="42.63" fill="#fff9ff"/>
<rect x="1176.95" y="671.68" width="32.50" height="37.93" fill="#e0d3ff"/>
<rect x="1211.80" y="669.33" width="37.20" height="42.63" fill="#ffffff"/>
<rect x="1214.15" y="671.68" width="32.50" height="37.93" fill="#f5f0ff"/>
<rect x="1249.00" y="669.33" width="37.20" height="42.63" fill="#ffffff"/>
<rect x="1251.35" y="671.68" width="32.50" height="37.93" fill="#f2ebff"/>
<rect x="1286.20" y="669.33" width="37.20" height="42.63" fill="#ffffff"/>
<rect x="1288.55" y="671.68" width="32.50" height="37.93" fill="#f2ebff"/>
<rect x="1323.40" y="669.33" width="37.20" height="42.63" fill="#eed8ff"/>
<rect x="1325.75" y="671.68" width="32.50" height="37.93" fill="#cab7ff"/>
<rect x="244.60" y="711.97" width="37.20" height="42.63" fill="#ffffff"/>
<rect x="246.95" y="714.32" width="32.50" height="37.93" fill="#f7f3ff"/>
<rect x="281.80" y="711.97" width="37.20" height="42.63" fill="#ffffff"/>
<rect x="284.15" y="714.32" width="32.50" height="37.93" fill="#f3eeff"/>
<rect x="319.00" y="711.97" width="37.20" height="42.63" fill="#ffffff"/>
<rect x="321.35" y="714.32" width="32.50" height="37.93" fill="#f2ebff"/>
<rect x="356.20" y="711.97" width="37.20" height="42.63" fill="#fffff7"/>
<rect x="358.55" y="714.32" width="32.50" height="37.93" fill="#ffddd1"/>
<rect x="393.40" y="711.97" width="37.20" height="42.63" fill="#fffffe"/>
<rect x="395.75" y="714.32" width="32.50" height="37.93" fill="#ffe1d7"/>
<rect x="430.60" y="711.97" width="37.20" height="42.63" fill="#ffddc3"/>
<rect x="432.95" y="714.32" width="32.50" height="37.93" fill="#ffbba5"/>
<rect x="467.80" y="711.97" width="37.20" height="42.63" fill="#fffeed"/>
<rect x="470.15" y="714.32" width="32.50" height="37.93" fill="#ffd7c9"/>
<rect x="505.00" y="711.97" width="37.20" height="42.63" fill="#fffeed"/>
<rect x="507.35" y="714.32" width="32.50" height="37.93" fill="#ffd7c9"/>
<rect x="542.20" y="711.97" width="37.20" height="42.63" fill="#fff9e7"/>
<rect x="544.55" y="714.32" width="32.50" height="37.93" fill="#ffd3c4"/>
<rect x="579.40" y="711.97" width="37.20" height="42.63" fill="#ffcaab"/>
<rect x="581.75" y="714.32" width="32.50" height="37.93" fill="#ffab91"/>
<rect x="616.60" y="711.97" width="37.20" height="42.63" fill="#ff6b44"/>
<rect x="618.95" y="714.32" width="32.50" height="37.93" fill="#ff5b3a"/>
<rect x="653.80" y="711.97" width="37.20" height="42.63" fill="#0036ff"/>
<rect x="656.15" y="714.32" width="32.50" height="37.93" fill="#002eff"/>
<rect x="691.00" y="711.97" width="37.20" height="42.63" fill="#fffffe"/>
<rect x="693.35" y="714.32" width="32.50" height="37.93" fill="#ffe1d7"/>
<rect x="728.20" y="711.97" width="37.20" height="42.63" fill="#ffffff"/>
<rect x="730.55" y="714.32" width="32.50" height="37.93" fill="#fff1ec"/>
<rect x="765.40" y="711.97" width="37.20" height="42.63" fill="#ffffff"/>
<rect x="767.75" y="714.32" width="32.50" height="37.93" fill="#f7f3ff"/>
<rect x="802.60" y="711.97" width="37.20" height="42.63" fill="#ffffff"/>
<rect x="804.95" y="714.32" width="32.50" height="37.93" fill="#f7f3ff"/>
<rect x="839.80" y="711.97" width="37.20" height="42.63" fill="#ffffff"/>
<rect x="842.15" y="714.32" width="32.50" height="37.93" fill="#fcfaff"/>
<rect x="877.00" y="711.97" width="37.20" height="42.63" fill="#ffffff"/>
<rect x="879.35" y="714.32" width="32.50" height="37.93" fill="#fcfaff"/>
<rect x="914.20" y="711.97" width="37.20" height="42.63" fill="#fffff7"/>
<rect x="916.55" y="714.32" width="32.50" height="37.93" fill="#ffddd1"/>
<rect x="951.40" y="711.97" width="37.20" height="42.63" fill="#e7ceff"/>
<rect x="953.75" y="714.32" width="32.50" height="37.93" fill="#c4afff"/>
<rect x="988.60" y="711.97" width="37.20" height="42.63" fill="#fffeed"/>
<rect x="990.95" y="714.32" width="32.50" height="37.93" fill="#ffd7c9"/>
<rect x="1025.80" y="711.97" width="37.20" height="42.63" fill="#ffd6b9"/>
<rect x="1028.15" y="714.32" width="32.50" height="37.93" fill="#ffb59d"/>
<rect x="1063.00" y="711.97" width="37.20" height="42.63" fill="#ffceb1"/>
<rect x="1065.35" y="714.32" width="32.50" height="37.93" fill="#ffaf96"/>
<rect x="1100.20" y="711.97" width="37.20" height="42.63" fill="#ffdfc5"/>
<rect x="1102.55" y="714.32" width="32.50" height="37.93" fill="#ffbda7"/>
<rect x="1137.40" y="711.97" width="37.20" height="42.63" fill="#ffd3b7"/>
<rect x="1139.75" y="714.32" width="32.50" height="37.93" fill="#ffb39b"/>
<rect x="1174.60" y="711.97" width="37.20" height="42.63" fill="#ffdfc5"/>
<rect x="1176.95" y="714.32" width="32.50" height="37.93" fill="#ffbda7"/>
<rect x="1211.80" y="711.97" width="37.20" height="42.63" fill="#fffff7"/>
<rect x="1214.15" y="714.32" width="32.50" height="37.93" fill="#ffddd1"/>
<rect x="1249.00" y="711.97" width="37.20" height="42.63" fill="#fff9e7"/>
<rect x="1251.35" y="714.32" width="32.50" height="37.93" fill="#ffd3c4"/>
<rect x="1286.20" y="711.97" width="37.20" height="42.63" fill="#ffffff"/>
<rect x="1288.55" y="714.32" width="32.50" height="37.93" fill="#fff1ec"/>
<rect x="1323.40" y="711.97" width="37.20" height="42.63" fill="#ffceb1"/>
<rect x="1325.75" y="714.32" width="32.50" height="37.93" fill="#ffaf96"/>
<rect x="244.60" y="754.60" width="37.20" height="42.63" fill="#ffffff"/>
<rect x="246.95" y="756.95" width="32.50" height="37.93" fill="#ffe7df"/>
<rect x="281.80" y="754.60" width="37.20" height="42.63" fill="#ffffff"/>
<rect x="284.15" y="756.95" width="32.50" height="37.93" fill="#ffebe4"/>
<rect x="319.00" y="754.60" width="37.20" height="42.63" fill="#ffffff"/>
<rect x="321.35" y="756.95" width="32.50" height="37.93" fill="#f3eeff"/>
<rect x="356.20" y="754.60" width="37.20" height="42.63" fill="#fffeed"/>
<rect x="358.55" y="756.95" width="32.50" height="37.93" fill="#ffd7c9"/>
<rect x="393.40" y="754.60" width="37.20" height="42.63" fill="#ffffff"/>
<rect x="395.75" y="756.95" width="32.50" height="37.93" fill="#f5f0ff"/>
<rect x="430.60" y="754.60" width="37.20" height="42.63" fill="#ffffff"/>
<rect x="432.95" y="756.95" width="32.50" height="37.93" fill="#ffefe9"/>
<rect x="467.80" y="754.60" width="37.20" height="42.63" fill="#ffffff"/>
<rect x="470.15" y="756.95" width="32.50" height="37.93" fill="#e5daff"/>
<rect x="505.00" y="754.60" width="37.20" height="42.63" fill="#ffffff"/>
<rect x="507.35" y="756.95" width="32.50" height="37.93" fill="#fffbfa"/>
<rect x="542.20" y="754.60" width="37.20" height="42.63" fill="#f9e5ff"/>
<rect x="544.55" y="756.95" width="32.50" height="37.93" fill="#d3c2ff"/>
<rect x="579.40" y="754.60" width="37.20" height="42.63" fill="#feebff"/>
<rect x="581.75" y="756.95" width="32.50" height="37.93" fill="#d7c7ff"/>
<rect x="616.60" y="754.60" width="37.20" height="42.63" fill="#ffffff"/>
<rect x="618.95" y="756.95" width="32.50" height="37.93" fill="#e9dfff"/>
<rect x="653.80" y="754.60" width="37.20" height="42.63" fill="#fffffe"/>
<rect x="656.15" y="756.95" width="32.50" height="37.93" fill="#ffe1d7"/>
<rect x="691.00" y="754.60" width="37.20" height="42.63" fill="#0036ff"/>
<rect x="693.35" y="756.95" width="32.50" height="37.93" fill="#002eff"/>
<rect x="728.20" y="754.60" width="37.20" height="42.63" fill="#ffffff"/>
<rect x="730.55" y="756.95" width="32.50" height="37.93" fill="#fff5f1"/>
<rect x="765.40" y="754.60" width="37.20" height="42.63" fill="#ffffff"/>
<rect x="767.75" y="756.95" width="32.50" height="37.93" fill="#faf8ff"/>
<rect x="802.60" y="754.60" width="37.20" height="42.63" fill="#ffffff"/>
<rect x="804.95" y="756.95" width="32.50" height="37.93" fill="#f5f0ff"/>
<rect x="839.80" y="754.60" width="37.20" height="42.63" fill="#ffffff"/>
<rect x="842.15" y="756.95" width="32.50" height="37.93" fill="#fff3ef"/>
<rect x="914.20" y="754.60" width="37.20" height="42.63" fill="#ffeeff"/>
<rect x="916.55" y="756.95" width="32.50" height="37.93" fill="#d9caff"/>
<rect x="951.40" y="754.60" width="37.20" height="42.63" fill="#fffff4"/>
<rect x="953.75" y="756.95" width="32.50" height="37.93" fill="#ffdbcf"/>
<rect x="988.60" y="754.60" width="37.20" height="42.63" fill="#ffffff"/>
<rect x="990.95" y="756.95" width="32.50" height="37.93" fill="#ffefe9"/>
<rect x="1025.80" y="754.60" width="37.20" height="42.63" fill="#ffffff"/>
<rect x="1028.15" y="756.95" width="32.50" height="37.93" fill="#eee6ff"/>
<rect x="1063.00" y="754.60" width="37.20" height="42.63" fill="#fffdff"/>
<rect x="1065.35" y="756.95" width="32.50" height="37.93" fill="#e2d6ff"/>
<rect x="1100.20" y="754.60" width="37.20" height="42.63" fill="#ffffff"/>
<rect x="1102.55" y="756.95" width="32.50" height="37.93" fill="#f7f3ff"/>
<rect x="1137.40" y="754.60" width="37.20" height="42.63" fill="#fffdff"/>
<rect x="1139.75" y="756.95" width="32.50" height="37.93" fill="#e2d6ff"/>
<rect x="1174.60" y="754.60" width="37.20" height="42.63" fill="#ffffff"/>
<rect x="1176.95" y="756.95" width="32.50" height="37.93" fill="#fff9f7"/>
<rect x="1211.80" y="754.60" width="37.20" height="42.63" fill="#ffffff"/>
<rect x="1214.15" y="756.95" width="32.50" height="37.93" fill="#f5f0ff"/>
<rect x="1249.00" y="754.60" width="37.20" height="42.63" fill="#ffffff"/>
<rect x="1251.35" y="756.95" width="32.50" height="37.93" fill="#ffebe4"/>
<rect x="1286.20" y="754.60" width="37.20" height="42.63" fill="#ffffff"/>
<rect x="1288.55" y="756.95" width="32.50" height="37.93" fill="#f2ebff"/>
<rect x="1323.40" y="754.60" width="37.20" height="42.63" fill="#ffffff"/>
<rect x="1325.75" y="756.95" width="32.50" height="37.93" fill="#ebe2ff"/>
<rect x="244.60" y="797.23" width="37.20" height="42.63" fill="#ffffff"/>
<rect x="246.95" y="799.58" width="32.50" height="37.93" fill="#f3eeff"/>
<rect x="281.80" y="797.23" width="37.20" height="42.63" fill="#ffffff"/>
<rect x="284.15" y="799.58" width="32.50" height="37.93" fill="#f5f0ff"/>
<rect x="319.00" y="797.23" width="37.20" height="42.63" fill="#ffffff"/>
<rect x="321.35" y="799.58" width="32.50" height="37.93" fill="#f5f0ff"/>
<rect x="356.20" y="797.23" width="37.20" height="42.63" fill="#ffffff"/>
<rect x="358.55" y="799.58" width="32.50" height="37.93" fill="#eee6ff"/>
<rect x="393.40" y="797.23" width="37.20" height="42.63" fill="#ffffff"/>
<rect x="395.75" y="799.58" width="32.50" height="37.93" fill="#fffbfa"/>
<rect x="430.60" y="797.23" width="37.20" height="42.63" fill="#ffffff"/>
<rect x="432.95" y="799.58" width="32.50" height="37.93" fill="#ffefe9"/>
<rect x="467.80" y="797.23" width="37.20" height="42.63" fill="#ffffff"/>
<rect x="470.15" y="799.58" width="32.50" height="37.93" fill="#ebe2ff"/>
<rect x="505.00" y="797.23" width="37.20" height="42.63" fill="#ffffff"/>
<rect x="507.35" y="799.58" width="32.50" height="37.93" fill="#ffefe9"/>
<rect x="542.20" y="797.23" width="37.20" height="42.63" fill="#fffdff"/>
<rect x="544.55" y="799.58" width="32.50" height="37.93" fill="#e2d6ff"/>
<rect x="579.40" y="797.23" width="37.20" height="42.63" fill="#eed8ff"/>
<rect x="581.75" y="799.58" width="32.50" height="37.93" fill="#cab7ff"/>
<rect x="616.60" y="797.23" width="37.20" height="42.63" fill="#ffffff"/>
<rect x="618.95" y="799.58" width="32.50" height="37.93" fill="#ffebe4"/>
<rect x="653.80" y="797.23" width="37.20" height="42.63" fill="#ffffff"/>
<rect x="656.15" y="799.58" width="32.50" height="37.93" fill="#fff1ec"/>
<rect x="691.00" y="797.23" width="37.20" height="42.63" fill="#ffffff"/>
<rect x="693.35" y="799.58" width="32.50" height="37.93" fill="#fff5f1"/>
<rect x="728.20" y="797.23" width="37.20" height="42.63" fill="#0036ff"/>
<rect x="730.55" y="799.58" width="32.50" height="37.93" fill="#002eff"/>
<rect x="765.40" y="797.23" width="37.20" height="42.63" fill="#ffffff"/>
<rect x="767.75" y="799.58" width="32.50" height="37.93" fill="#e7ddff"/>
<rect x="802.60" y="797.23" width="37.20" height="42.63" fill="#ffffff"/>
<rect x="804.95" y="799.58" width="32.50" height="37.93" fill="#ffefe9"/>
<rect x="839.80" y="797.23" width="37.20" height="42.63" fill="#fffeed"/>
<rect x="842.15" y="799.58" width="32.50" height="37.93" fill="#ffd7c9"/>
<rect x="877.00" y="797.23" width="37.20" height="42.63" fill="#ffffff"/>
<rect x="879.35" y="799.58" width="32.50" height="37.93" fill="#ffefe9"/>
<rect x="914.20" y="797.23" width="37.20" height="42.63" fill="#ffffff"/>
<rect x="916.55" y="799.58" width="32.50" height="37.93" fill="#faf8ff"/>
<rect x="951.40" y="797.23" width="37.20" height="42.63" fill="#ffffff"/>
<rect x="953.75" y="799.58" width="32.50" height="37.93" fill="#fff1ec"/>
<rect x="988.60" y="797.23" width="37.20" height="42.63" fill="#ffffff"/>
<rect x="990.95" y="799.58" width="32.50" height="37.93" fill="#ffefe9"/>
<rect x="1025.80" y="797.23" width="37.20" height="42.63" fill="#ffffff"/>
<rect x="1028.15" y="799.58" width="32.50" height="37.93" fill="#fff9f7"/>
<rect x="1063.00" y="797.23" width="37.20" height="42.63" fill="#ffffff"/>
<rect x="1065.35" y="799.58" width="32.50" height="37.93" fill="#ffe5dc"/>
<rect x="1100.20" y="797.23" width="37.20" height="42.63" fill="#ffffff"/>
<rect x="1102.55" y="799.58" width="32.50" height="37.93" fill="#f8f5ff"/>
<rect x="1137.40" y="797.23" width="37.20" height="42.63" fill="#fffdff"/>
<rect x="1139.75" y="799.58" width="32.50" height="37.93" fill="#e2d6ff"/>
<rect x="1174.60" y="797.23" width="37.20" height="42.63" fill="#ffffff"/>
<rect x="1176.95" y="799.58" width="32.50" height="37.93" fill="#ffefe9"/>
<rect x="1211.80" y="797.23" width="37.20" height="42.63" fill="#ffffff"/>
<rect x="1214.15" y="799.58" width="32.50" height="37.93" fill="#f3eeff"/>
<rect x="1249.00" y="797.23" width="37.20" height="42.63" fill="#feebff"/>
<rect x="1251.35" y="799.58" width="32.50" height="37.93" fill="#d7c7ff"/>
<rect x="1286.20" y="797.23" width="37.20" height="42.63" fill="#ffffff"/>
<rect x="1288.55" y="799.58" width="32.50" height="37.93" fill="#f8f5ff"/>
<rect x="1323.40" y="797.23" width="37.20" height="42.63" fill="#fff9ff"/>
<rect x="1325.75" y="799.58" width="32.50" height="37.93" fill="#e0d3ff"/>
<rect x="244.60" y="839.87" width="37.20" height="42.63" fill="#ffeeff"/>
<rect x="246.95" y="842.22" width="32.50" height="37.93" fill="#d9caff"/>
<rect x="319.00" y="839.87" width="37.20" height="42.63" fill="#ffffff"/>
<rect x="321.35" y="842.22" width="32.50" height="37.93" fill="#fff9f7"/>
<rect x="356.20" y="839.87" width="37.20" height="42.63" fill="#ffffff"/>
<rect x="358.55" y="842.22" width="32.50" height="37.93" fill="#ffebe4"/>
<rect x="430.60" y="839.87" width="37.20" height="42.63" fill="#fffff7"/>
<rect x="432.95" y="842.22" width="32.50" height="37.93" fill="#ffddd1"/>
<rect x="467.80" y="839.87" width="37.20" height="42.63" fill="#ffffff"/>
<rect x="470.15" y="842.22" width="32.50" height="37.93" fill="#eee6ff"/>
<rect x="505.00" y="839.87" width="37.20" height="42.63" fill="#ffffff"/>
<rect x="507.35" y="842.22" width="32.50" height="37.93" fill="#fffdfc"/>
<rect x="542.20" y="839.87" width="37.20" height="42.63" fill="#ffffff"/>
<rect x="544.55" y="842.22" width="32.50" height="37.93" fill="#ffe7df"/>
<rect x="579.40" y="839.87" width="37.20" height="42.63" fill="#ffffff"/>
<rect x="581.75" y="842.22" width="32.50" height="37.93" fill="#fffbfa"/>
<rect x="616.60" y="839.87" width="37.20" height="42.63" fill="#fffeed"/>
<rect x="618.95" y="842.22" width="32.50" height="37.93" fill="#ffd7c9"/>
<rect x="653.80" y="839.87" width="37.20" height="42.63" fill="#ffffff"/>
<rect x="656.15" y="842.22" width="32.50" height="37.93" fill="#f7f3ff"/>
<rect x="691.00" y="839.87" width="37.20" height="42.63" fill="#ffffff"/>
<rect x="693.35" y="842.22" width="32.50" height="37.93" fill="#faf8ff"/>
<rect x="728.20" y="839.87" width="37.20" height="42.63" fill="#ffffff"/>
<rect x="730.55" y="842.22" width="32.50" height="37.93" fill="#e7ddff"/>
<rect x="765.40" y="839.87" width="37.20" height="42.63" fill="#0036ff"/>
<rect x="767.75" y="842.22" width="32.50" height="37.93" fill="#002eff"/>
<rect x="839.80" y="839.87" width="37.20" height="42.63" fill="#ffffff"/>
<rect x="842.15" y="842.22" width="32.50" height="37.93" fill="#ffede7"/>
<rect x="877.00" y="839.87" width="37.20" height="42.63" fill="#ffffff"/>
<rect x="879.35" y="842.22" width="32.50" height="37.93" fill="#f8f5ff"/>
<rect x="914.20" y="839.87" width="37.20" height="42.63" fill="#ffffff"/>
<rect x="916.55" y="842.22" width="32.50" height="37.93" fill="#f8f5ff"/>
<rect x="951.40" y="839.87" width="37.20" height="42.63" fill="#ffffff"/>
<rect x="953.75" y="842.22" width="32.50" height="37.93" fill="#fffbfa"/>
<rect x="988.60" y="839.87" width="37.20" height="42.63" fill="#ffffff"/>
<rect x="990.95" y="842.22" width="32.50" height="37.93" fill="#fff9f7"/>
<rect x="1063.00" y="839.87" width="37.20" height="42.63" fill="#ffffff"/>
<rect x="1065.35" y="842.22" width="32.50" height="37.93" fill="#eee6ff"/>
<rect x="1100.20" y="839.87" width="37.20" height="42.63" fill="#ffffff"/>
<rect x="1102.55" y="842.22" width="32.50" height="37.93" fill="#f5f0ff"/>
<rect x="1137.40" y="839.87" width="37.20" height="42.63" fill="#fffdff"/>
<rect x="1139.75" y="842.22" width="32.50" height="37.93" fill="#e2d6ff"/>
<rect x="1174.60" y="839.87" width="37.20" height="42.63" fill="#ffffff"/>
<rect x="1176.95" y="842.22" width="32.50" height="37.93" fill="#f7f3ff"/>
<rect x="1211.80" y="839.87" width="37.20" height="42.63" fill="#ffffff"/>
<rect x="1214.15" y="842.22" width="32.50" height="37.93" fill="#eee6ff"/>
<rect x="1249.00" y="839.87" width="37.20" height="42.63" fill="#ffffff"/>
<rect x="1251.35" y="842.22" width="32.50" height="37.93" fill="#ece4ff"/>
<rect x="1286.20" y="839.87" width="37.20" height="42.63" fill="#ffffff"/>
<rect x="1288.55" y="842.22" width="32.50" height="37.93" fill="#fff5f1"/>
<rect x="1323.40" y="839.87" width="37.20" height="42.63" fill="#ffffff"/>
<rect x="1325.75" y="842.22" width="32.50" height="37.93" fill="#f5f0ff"/>
<rect x="244.60" y="882.50" width="37.20" height="42.63" fill="#ffffff"/>
<rect x="246.95" y="884.85" width="32.50" height="37.93" fill="#f8f5ff"/>
<rect x="281.80" y="882.50" width="37.20" height="42.63" fill="#fffdff"/>
<rect x="284.15" y="884.85" width="32.50" height="37.93" fill="#e2d6ff"/>
<rect x="319.00" y="882.50" width="37.20" height="42.63" fill="#fffff4"/>
<rect x="321.35" y="884.85" width="32.50" height="37.93" fill="#ffdbcf"/>
<rect x="356.20" y="882.50" width="37.20" height="42.63" fill="#fffff7"/>
<rect x="358.55" y="884.85" width="32.50" height="37.93" fill="#ffddd1"/>
<rect x="393.40" y="882.50" width="37.20" height="42.63" fill="#ffffff"/>
<rect x="395.75" y="884.85" width="32.50" height="37.93" fill="#f8f5ff"/>
<rect x="430.60" y="882.50" width="37.20" height="42.63" fill="#ffffff"/>
<rect x="432.95" y="884.85" width="32.50" height="37.93" fill="#ffefe9"/>
<rect x="467.80" y="882.50" width="37.20" height="42.63" fill="#ffffff"/>
<rect x="470.15" y="884.85" width="32.50" height="37.93" fill="#ffe7df"/>
<rect x="579.40" y="882.50" width="37.20" height="42.63" fill="#ffffff"/>
<rect x="581.75" y="884.85" width="32.50" height="37.93" fill="#fff5f1"/>
<rect x="616.60" y="882.50" width="37.20" height="42.63" fill="#ffffff"/>
<rect x="618.95" y="884.85" width="32.50" height="37.93" fill="#fff3ef"/>
<rect x="653.80" y="882.50" width="37.20" height="42.63" fill="#ffffff"/>
<rect x="656.15" y="884.85" width="32.50" height="37.93" fill="#f7f3ff"/>
<rect x="691.00" y="882.50" width="37.20" height="42.63" fill="#ffffff"/>
<rect x="693.35" y="884.85" width="32.50" height="37.93" fill="#f5f0ff"/>
<rect x="728.20" y="882.50" width="37.20" height="42.63" fill="#ffffff"/>
<rect x="730.55" y="884.85" width="32.50" height="37.93" fill="#ffefe9"/>
<rect x="802.60" y="882.50" width="37.20" height="42.63" fill="#0036ff"/>
<rect x="804.95" y="884.85" width="32.50" height="37.93" fill="#002eff"/>
<rect x="839.80" y="882.50" width="37.20" height="42.63" fill="#d0b5ff"/>
<rect x="842.15" y="884.85" width="32.50" height="37.93" fill="#b099ff"/>
<rect x="877.00" y="882.50" width="37.20" height="42.63" fill="#4c51ff"/>
<rect x="879.35" y="884.85" width="32.50" height="37.93" fill="#4045ff"/>
<rect x="914.20" y="882.50" width="37.20" height="42.63" fill="#ffffff"/>
<rect x="916.55" y="884.85" width="32.50" height="37.93" fill="#fffbfa"/>
<rect x="951.40" y="882.50" width="37.20" height="42.63" fill="#ffffff"/>
<rect x="953.75" y="884.85" width="32.50" height="37.93" fill="#eee6ff"/>
<rect x="988.60" y="882.50" width="37.20" height="42.63" fill="#ffffff"/>
<rect x="990.95" y="884.85" width="32.50" height="37.93" fill="#ffefe9"/>
<rect x="1100.20" y="882.50" width="37.20" height="42.63" fill="#ffffff"/>
<rect x="1102.55" y="884.85" width="32.50" height="37.93" fill="#f5f0ff"/>
<rect x="1137.40" y="882.50" width="37.20" height="42.63" fill="#ffffff"/>
<rect x="1139.75" y="884.85" width="32.50" height="37.93" fill="#ffebe4"/>
<rect x="1174.60" y="882.50" width="37.20" height="42.63" fill="#ffffff"/>
<rect x="1176.95" y="884.85" width="32.50" height="37.93" fill="#fff1ec"/>
<rect x="1211.80" y="882.50" width="37.20" height="42.63" fill="#fff9e7"/>
<rect x="1214.15" y="884.85" width="32.50" height="37.93" fill="#ffd3c4"/>
<rect x="1249.00" y="882.50" width="37.20" height="42.63" fill="#ffffff"/>
<rect x="1251.35" y="884.85" width="32.50" height="37.93" fill="#fcfaff"/>
<rect x="1286.20" y="882.50" width="37.20" height="42.63" fill="#ffffff"/>
<rect x="1288.55" y="884.85" width="32.50" height="37.93" fill="#f3eeff"/>
<rect x="244.60" y="925.13" width="37.20" height="42.63" fill="#ffffff"/>
<rect x="246.95" y="927.48" width="32.50" height="37.93" fill="#f2ebff"/>
<rect x="281.80" y="925.13" width="37.20" height="42.63" fill="#ffeeff"/>
<rect x="284.15" y="927.48" width="32.50" height="37.93" fill="#d9caff"/>
<rect x="319.00" y="925.13" width="37.20" height="42.63" fill="#ffffff"/>
<rect x="321.35" y="927.48" width="32.50" height="37.93" fill="#ffefe9"/>
<rect x="356.20" y="925.13" width="37.20" height="42.63" fill="#ffffff"/>
<rect x="358.55" y="927.48" width="32.50" height="37.93" fill="#ffe5dc"/>
<rect x="393.40" y="925.13" width="37.20" height="42.63" fill="#fff9ff"/>
<rect x="395.75" y="927.48" width="32.50" height="37.93" fill="#e0d3ff"/>
<rect x="430.60" y="925.13" width="37.20" height="42.63" fill="#ffffff"/>
<rect x="432.95" y="927.48" width="32.50" height="37.93" fill="#ffefe9"/>
<rect x="467.80" y="925.13" width="37.20" height="42.63" fill="#ffffff"/>
<rect x="470.15" y="927.48" width="32.50" height="37.93" fill="#ffe7df"/>
<rect x="505.00" y="925.13" width="37.20" height="42.63" fill="#ffffff"/>
<rect x="507.35" y="927.48" width="32.50" height="37.93" fill="#fff7f4"/>
<rect x="542.20" y="925.13" width="37.20" height="42.63" fill="#ffffff"/>
<rect x="544.55" y="927.48" width="32.50" height="37.93" fill="#ffe3d9"/>
<rect x="579.40" y="925.13" width="37.20" height="42.63" fill="#ffffff"/>
<rect x="581.75" y="927.48" width="32.50" height="37.93" fill="#ffe7df"/>
<rect x="653.80" y="925.13" width="37.20" height="42.63" fill="#ffffff"/>
<rect x="656.15" y="927.48" width="32.50" height="37.93" fill="#fcfaff"/>
<rect x="691.00" y="925.13" width="37.20" height="42.63" fill="#ffffff"/>
<rect x="693.35" y="927.48" width="32.50" height="37.93" fill="#fff3ef"/>
<rect x="728.20" y="925.13" width="37.20" height="42.63" fill="#fffeed"/>
<rect x="730.55" y="927.48" width="32.50" height="37.93" fill="#ffd7c9"/>
<rect x="765.40" y="925.13" width="37.20" height="42.63" fill="#ffffff"/>
<rect x="767.75" y="927.48" width="32.50" height="37.93" fill="#ffede7"/>
<rect x="802.60" y="925.13" width="37.20" height="42.63" fill="#d0b5ff"/>
<rect x="804.95" y="927.48" width="32.50" height="37.93" fill="#b099ff"/>
<rect x="839.80" y="925.13" width="37.20" height="42.63" fill="#0036ff"/>
<rect x="842.15" y="927.48" width="32.50" height="37.93" fill="#002eff"/>
<rect x="877.00" y="925.13" width="37.20" height="42.63" fill="#e7ceff"/>
<rect x="879.35" y="927.48" width="32.50" height="37.93" fill="#c4afff"/>
<rect x="914.20" y="925.13" width="37.20" height="42.63" fill="#fffff4"/>
<rect x="916.55" y="927.48" width="32.50" height="37.93" fill="#ffdbcf"/>
<rect x="988.60" y="925.13" width="37.20" height="42.63" fill="#fffff7"/>
<rect x="990.95" y="927.48" width="32.50" height="37.93" fill="#ffddd1"/>
<rect x="1063.00" y="925.13" width="37.20" height="42.63" fill="#ffffff"/>
<rect x="1065.35" y="927.48" width="32.50" height="37.93" fill="#f5f0ff"/>
<rect x="1100.20" y="925.13" width="37.20" height="42.63" fill="#ffffff"/>
<rect x="1102.55" y="927.48" width="32.50" height="37.93" fill="#ffe7df"/>
<rect x="1137.40" y="925.13" width="37.20" height="42.63" fill="#ffffff"/>
<rect x="1139.75" y="927.48" width="32.50" height="37.93" fill="#ffebe4"/>
<rect x="1174.60" y="925.13" width="37.20" height="42.63" fill="#ffffff"/>
<rect x="1176.95" y="927.48" width="32.50" height="37.93" fill="#fffdfc"/>
<rect x="1211.80" y="925.13" width="37.20" height="42.63" fill="#fff2de"/>
<rect x="1214.15" y="927.48" width="32.50" height="37.93" fill="#ffcdbc"/>
<rect x="1286.20" y="925.13" width="37.20" height="42.63" fill="#fff9e7"/>
<rect x="1288.55" y="927.48" width="32.50" height="37.93" fill="#ffd3c4"/>
<rect x="1323.40" y="925.13" width="37.20" height="42.63" fill="#ffffff"/>
<rect x="1325.75" y="927.48" width="32.50" height="37.93" fill="#fff1ec"/>
<rect x="244.60" y="967.77" width="37.20" height="42.63" fill="#ffffff"/>
<rect x="246.95" y="970.12" width="32.50" height="37.93" fill="#ebe2ff"/>
<rect x="281.80" y="967.77" width="37.20" height="42.63" fill="#ffffff"/>
<rect x="284.15" y="970.12" width="32.50" height="37.93" fill="#ebe2ff"/>
<rect x="319.00" y="967.77" width="37.20" height="42.63" fill="#fffeed"/>
<rect x="321.35" y="970.12" width="32.50" height="37.93" fill="#ffd7c9"/>
<rect x="356.20" y="967.77" width="37.20" height="42.63" fill="#ffffff"/>
<rect x="358.55" y="970.12" width="32.50" height="37.93" fill="#fff5f1"/>
<rect x="393.40" y="967.77" width="37.20" height="42.63" fill="#ffffff"/>
<rect x="395.75" y="970.12" width="32.50" height="37.93" fill="#fffbfa"/>
<rect x="430.60" y="967.77" width="37.20" height="42.63" fill="#ffffff"/>
<rect x="432.95" y="970.12" width="32.50" height="37.93" fill="#ffefe9"/>
<rect x="467.80" y="967.77" width="37.20" height="42.63" fill="#fffff7"/>
<rect x="470.15" y="970.12" width="32.50" height="37.93" fill="#ffddd1"/>
<rect x="505.00" y="967.77" width="37.20" height="42.63" fill="#ffffff"/>
<rect x="507.35" y="970.12" width="32.50" height="37.93" fill="#ffefe9"/>
<rect x="542.20" y="967.77" width="37.20" height="42.63" fill="#ffffff"/>
<rect x="544.55" y="970.12" width="32.50" height="37.93" fill="#fff3ef"/>
<rect x="579.40" y="967.77" width="37.20" height="42.63" fill="#ffffff"/>
<rect x="581.75" y="970.12" width="32.50" height="37.93" fill="#fff7f4"/>
<rect x="616.60" y="967.77" width="37.20" height="42.63" fill="#ffffff"/>
<rect x="618.95" y="970.12" width="32.50" height="37.93" fill="#fff7f4"/>
<rect x="653.80" y="967.77" width="37.20" height="42.63" fill="#ffffff"/>
<rect x="656.15" y="970.12" width="32.50" height="37.93" fill="#fcfaff"/>
<rect x="728.20" y="967.77" width="37.20" height="42.63" fill="#ffffff"/>
<rect x="730.55" y="970.12" width="32.50" height="37.93" fill="#ffefe9"/>
<rect x="765.40" y="967.77" width="37.20" height="42.63" fill="#ffffff"/>
<rect x="767.75" y="970.12" width="32.50" height="37.93" fill="#f8f5ff"/>
<rect x="802.60" y="967.77" width="37.20" height="42.63" fill="#4c51ff"/>
<rect x="804.95" y="970.12" width="32.50" height="37.93" fill="#4045ff"/>
<rect x="839.80" y="967.77" width="37.20" height="42.63" fill="#e7ceff"/>
<rect x="842.15" y="970.12" width="32.50" height="37.93" fill="#c4afff"/>
<rect x="877.00" y="967.77" width="37.20" height="42.63" fill="#0036ff"/>
<rect x="879.35" y="970.12" width="32.50" height="37.93" fill="#002eff"/>
<rect x="914.20" y="967.77" width="37.20" height="42.63" fill="#ffffff"/>
<rect x="916.55" y="970.12" width="32.50" height="37.93" fill="#ffefe9"/>
<rect x="951.40" y="967.77" width="37.20" height="42.63" fill="#ffffff"/>
<rect x="953.75" y="970.12" width="32.50" height="37.93" fill="#f5f0ff"/>
<rect x="988.60" y="967.77" width="37.20" height="42.63" fill="#ffffff"/>
<rect x="990.95" y="970.12" width="32.50" height="37.93" fill="#fffdfc"/>
<rect x="1025.80" y="967.77" width="37.20" height="42.63" fill="#ffffff"/>
<rect x="1028.15" y="970.12" width="32.50" height="37.93" fill="#f3eeff"/>
<rect x="1063.00" y="967.77" width="37.20" height="42.63" fill="#ffffff"/>
<rect x="1065.35" y="970.12" width="32.50" height="37.93" fill="#f5f0ff"/>
<rect x="1100.20" y="967.77" width="37.20" height="42.63" fill="#fff3ff"/>
<rect x="1102.55" y="970.12" width="32.50" height="37.93" fill="#dcceff"/>
<rect x="1137.40" y="967.77" width="37.20" height="42.63" fill="#ffffff"/>
<rect x="1139.75" y="970.12" width="32.50" height="37.93" fill="#fdfdff"/>
<rect x="1174.60" y="967.77" width="37.20" height="42.63" fill="#ffffff"/>
<rect x="1176.95" y="970.12" width="32.50" height="37.93" fill="#fffdfc"/>
<rect x="1211.80" y="967.77" width="37.20" height="42.63" fill="#fffffe"/>
<rect x="1214.15" y="970.12" width="32.50" height="37.93" fill="#ffe1d7"/>
<rect x="1249.00" y="967.77" width="37.20" height="42.63" fill="#ffffff"/>
<rect x="1251.35" y="970.12" width="32.50" height="37.93" fill="#fcfaff"/>
<rect x="1286.20" y="967.77" width="37.20" height="42.63" fill="#ffffff"/>
<rect x="1288.55" y="970.12" width="32.50" height="37.93" fill="#f7f3ff"/>
<rect x="1323.40" y="967.77" width="37.20" height="42.63" fill="#ffffff"/>
<rect x="1325.75" y="970.12" width="32.50" height="37.93" fill="#f2ebff"/>
<rect x="244.60" y="1010.40" width="37.20" height="42.63" fill="#fffff7"/>
<rect x="246.95" y="1012.75" width="32.50" height="37.93" fill="#ffddd1"/>
<rect x="281.80" y="1010.40" width="37.20" height="42.63" fill="#fffff7"/>
<rect x="284.15" y="1012.75" width="32.50" height="37.93" fill="#ffddd1"/>
<rect x="356.20" y="1010.40" width="37.20" height="42.63" fill="#ffffff"/>
<rect x="358.55" y="1012.75" width="32.50" height="37.93" fill="#fff9f7"/>
<rect x="393.40" y="1010.40" width="37.20" height="42.63" fill="#ffffff"/>
<rect x="395.75" y="1012.75" width="32.50" height="37.93" fill="#faf8ff"/>
<rect x="430.60" y="1010.40" width="37.20" height="42.63" fill="#ffedd8"/>
<rect x="432.95" y="1012.75" width="32.50" height="37.93" fill="#ffc9b7"/>
<rect x="467.80" y="1010.40" width="37.20" height="42.63" fill="#ffffff"/>
<rect x="470.15" y="1012.75" width="32.50" height="37.93" fill="#fff3ef"/>
<rect x="505.00" y="1010.40" width="37.20" height="42.63" fill="#ffffff"/>
<rect x="507.35" y="1012.75" width="32.50" height="37.93" fill="#fff7f4"/>
<rect x="542.20" y="1010.40" width="37.20" height="42.63" fill="#ffffff"/>
<rect x="544.55" y="1012.75" width="32.50" height="37.93" fill="#f2ebff"/>
<rect x="579.40" y="1010.40" width="37.20" height="42.63" fill="#ffffff"/>
<rect x="581.75" y="1012.75" width="32.50" height="37.93" fill="#fffbfa"/>
<rect x="616.60" y="1010.40" width="37.20" height="42.63" fill="#fff3ff"/>
<rect x="618.95" y="1012.75" width="32.50" height="37.93" fill="#dcceff"/>
<rect x="653.80" y="1010.40" width="37.20" height="42.63" fill="#fffff7"/>
<rect x="656.15" y="1012.75" width="32.50" height="37.93" fill="#ffddd1"/>
<rect x="691.00" y="1010.40" width="37.20" height="42.63" fill="#ffeeff"/>
<rect x="693.35" y="1012.75" width="32.50" height="37.93" fill="#d9caff"/>
<rect x="728.20" y="1010.40" width="37.20" height="42.63" fill="#ffffff"/>
<rect x="730.55" y="1012.75" width="32.50" height="37.93" fill="#faf8ff"/>
<rect x="765.40" y="1010.40" width="37.20" height="42.63" fill="#ffffff"/>
<rect x="767.75" y="1012.75" width="32.50" height="37.93" fill="#f8f5ff"/>
<rect x="802.60" y="1010.40" width="37.20" height="42.63" fill="#ffffff"/>
<rect x="804.95" y="1012.75" width="32.50" height="37.93" fill="#fffbfa"/>
<rect x="839.80" y="1010.40" width="37.20" height="42.63" fill="#fffff4"/>
<rect x="842.15" y="1012.75" width="32.50" height="37.93" fill="#ffdbcf"/>
<rect x="877.00" y="1010.40" width="37.20" height="42.63" fill="#ffffff"/>
<rect x="879.35" y="1012.75" width="32.50" height="37.93" fill="#ffefe9"/>
<rect x="914.20" y="1010.40" width="37.20" height="42.63" fill="#0036ff"/>
<rect x="916.55" y="1012.75" width="32.50" height="37.93" fill="#002eff"/>
<rect x="951.40" y="1010.40" width="37.20" height="42.63" fill="#ffffff"/>
<rect x="953.75" y="1012.75" width="32.50" height="37.93" fill="#fff7f4"/>
<rect x="988.60" y="1010.40" width="37.20" height="42.63" fill="#ffffff"/>
<rect x="990.95" y="1012.75" width="32.50" height="37.93" fill="#e9dfff"/>
<rect x="1063.00" y="1010.40" width="37.20" height="42.63" fill="#ffffff"/>
<rect x="1065.35" y="1012.75" width="32.50" height="37.93" fill="#f5f0ff"/>
<rect x="1100.20" y="1010.40" width="37.20" height="42.63" fill="#ffffff"/>
<rect x="1102.55" y="1012.75" width="32.50" height="37.93" fill="#eee6ff"/>
<rect x="1137.40" y="1010.40" width="37.20" height="42.63" fill="#ffffff"/>
<rect x="1139.75" y="1012.75" width="32.50" height="37.93" fill="#ffe5dc"/>
<rect x="1174.60" y="1010.40" width="37.20" height="42.63" fill="#feebff"/>
<rect x="1176.95" y="1012.75" width="32.50" height="37.93" fill="#d7c7ff"/>
<rect x="1211.80" y="1010.40" width="37.20" height="42.63" fill="#ffffff"/>
<rect x="1214.15" y="1012.75" width="32.50" height="37.93" fill="#f3eeff"/>
<rect x="1249.00" y="1010.40" width="37.20" height="42.63" fill="#ffffff"/>
<rect x="1251.35" y="1012.75" width="32.50" height="37.93" fill="#fffdfc"/>
<rect x="1286.20" y="1010.40" width="37.20" height="42.63" fill="#ffffff"/>
<rect x="1288.55" y="1012.75" width="32.50" height="37.93" fill="#f7f3ff"/>
<rect x="1323.40" y="1010.40" width="37.20" height="42.63" fill="#ffffff"/>
<rect x="1325.75" y="1012.75" width="32.50" height="37.93" fill="#e7ddff"/>
<rect x="244.60" y="1053.03" width="37.20" height="42.63" fill="#ffffff"/>
<rect x="246.95" y="1055.38" width="32.50" height="37.93" fill="#fff3ef"/>
<rect x="281.80" y="1053.03" width="37.20" height="42.63" fill="#eed8ff"/>
<rect x="284.15" y="1055.38" width="32.50" height="37.93" fill="#cab7ff"/>
<rect x="319.00" y="1053.03" width="37.20" height="42.63" fill="#ffffff"/>
<rect x="321.35" y="1055.38" width="32.50" height="37.93" fill="#f3eeff"/>
<rect x="393.40" y="1053.03" width="37.20" height="42.63" fill="#ffffff"/>
<rect x="395.75" y="1055.38" width="32.50" height="37.93" fill="#f2ebff"/>
<rect x="467.80" y="1053.03" width="37.20" height="42.63" fill="#ffffff"/>
<rect x="470.15" y="1055.38" width="32.50" height="37.93" fill="#ffe3d9"/>
<rect x="505.00" y="1053.03" width="37.20" height="42.63" fill="#ffffff"/>
<rect x="507.35" y="1055.38" width="32.50" height="37.93" fill="#f2ebff"/>
<rect x="542.20" y="1053.03" width="37.20" height="42.63" fill="#ffffff"/>
<rect x="544.55" y="1055.38" width="32.50" height="37.93" fill="#ffefe9"/>
<rect x="579.40" y="1053.03" width="37.20" height="42.63" fill="#fffffe"/>
<rect x="581.75" y="1055.38" width="32.50" height="37.93" fill="#ffe1d7"/>
<rect x="616.60" y="1053.03" width="37.20" height="42.63" fill="#ffe6ce"/>
<rect x="618.95" y="1055.38" width="32.50" height="37.93" fill="#ffc3af"/>
<rect x="653.80" y="1053.03" width="37.20" height="42.63" fill="#e7ceff"/>
<rect x="656.15" y="1055.38" width="32.50" height="37.93" fill="#c4afff"/>
<rect x="691.00" y="1053.03" width="37.20" height="42.63" fill="#fffff4"/>
<rect x="693.35" y="1055.38" width="32.50" height="37.93" fill="#ffdbcf"/>
<rect x="728.20" y="1053.03" width="37.20" height="42.63" fill="#ffffff"/>
<rect x="730.55" y="1055.38" width="32.50" height="37.93" fill="#fff1ec"/>
<rect x="765.40" y="1053.03" width="37.20" height="42.63" fill="#ffffff"/>
<rect x="767.75" y="1055.38" width="32.50" height="37.93" fill="#fffbfa"/>
<rect x="802.60" y="1053.03" width="37.20" height="42.63" fill="#ffffff"/>
<rect x="804.95" y="1055.38" width="32.50" height="37.93" fill="#eee6ff"/>
<rect x="877.00" y="1053.03" width="37.20" height="42.63" fill="#ffffff"/>
<rect x="879.35" y="1055.38" width="32.50" height="37.93" fill="#f5f0ff"/>
<rect x="914.20" y="1053.03" width="37.20" height="42.63" fill="#ffffff"/>
<rect x="916.55" y="1055.38" width="32.50" height="37.93" fill="#fff7f4"/>
<rect x="951.40" y="1053.03" width="37.20" height="42.63" fill="#0036ff"/>
<rect x="953.75" y="1055.38" width="32.50" height="37.93" fill="#002eff"/>
<rect x="988.60" y="1053.03" width="37.20" height="42.63" fill="#fffff7"/>
<rect x="990.95" y="1055.38" width="32.50" height="37.93" fill="#ffddd1"/>
<rect x="1025.80" y="1053.03" width="37.20" height="42.63" fill="#fffff7"/>
<rect x="1028.15" y="1055.38" width="32.50" height="37.93" fill="#ffddd1"/>
<rect x="1063.00" y="1053.03" width="37.20" height="42.63" fill="#ffdabf"/>
<rect x="1065.35" y="1055.38" width="32.50" height="37.93" fill="#ffb9a2"/>
<rect x="1100.20" y="1053.03" width="37.20" height="42.63" fill="#fff9e7"/>
<rect x="1102.55" y="1055.38" width="32.50" height="37.93" fill="#ffd3c4"/>
<rect x="1137.40" y="1053.03" width="37.20" height="42.63" fill="#fff2de"/>
<rect x="1139.75" y="1055.38" width="32.50" height="37.93" fill="#ffcdbc"/>
<rect x="1174.60" y="1053.03" width="37.20" height="42.63" fill="#ffffff"/>
<rect x="1176.95" y="1055.38" width="32.50" height="37.93" fill="#fff3ef"/>
<rect x="1211.80" y="1053.03" width="37.20" height="42.63" fill="#fffff7"/>
<rect x="1214.15" y="1055.38" width="32.50" height="37.93" fill="#ffddd1"/>
<rect x="1249.00" y="1053.03" width="37.20" height="42.63" fill="#fff9e7"/>
<rect x="1251.35" y="1055.38" width="32.50" height="37.93" fill="#ffd3c4"/>
<rect x="1323.40" y="1053.03" width="37.20" height="42.63" fill="#ffebd4"/>
<rect x="1325.75" y="1055.38" width="32.50" height="37.93" fill="#ffc7b4"/>
<rect x="244.60" y="1095.67" width="37.20" height="42.63" fill="#fffffe"/>
<rect x="246.95" y="1098.02" width="32.50" height="37.93" fill="#ffe1d7"/>
<rect x="281.80" y="1095.67" width="37.20" height="42.63" fill="#ffffff"/>
<rect x="284.15" y="1098.02" width="32.50" height="37.93" fill="#fff3ef"/>
<rect x="356.20" y="1095.67" width="37.20" height="42.63" fill="#fffff7"/>
<rect x="358.55" y="1098.02" width="32.50" height="37.93" fill="#ffddd1"/>
<rect x="393.40" y="1095.67" width="37.20" height="42.63" fill="#ffffff"/>
<rect x="395.75" y="1098.02" width="32.50" height="37.93" fill="#ebe2ff"/>
<rect x="430.60" y="1095.67" width="37.20" height="42.63" fill="#ffffff"/>
<rect x="432.95" y="1098.02" width="32.50" height="37.93" fill="#fdfdff"/>
<rect x="505.00" y="1095.67" width="37.20" height="42.63" fill="#fff9e7"/>
<rect x="507.35" y="1098.02" width="32.50" height="37.93" fill="#ffd3c4"/>
<rect x="542.20" y="1095.67" width="37.20" height="42.63" fill="#ffffff"/>
<rect x="544.55" y="1098.02" width="32.50" height="37.93" fill="#f7f3ff"/>
<rect x="616.60" y="1095.67" width="37.20" height="42.63" fill="#fff3ff"/>
<rect x="618.95" y="1098.02" width="32.50" height="37.93" fill="#dcceff"/>
<rect x="653.80" y="1095.67" width="37.20" height="42.63" fill="#fffeed"/>
<rect x="656.15" y="1098.02" width="32.50" height="37.93" fill="#ffd7c9"/>
<rect x="691.00" y="1095.67" width="37.20" height="42.63" fill="#ffffff"/>
<rect x="693.35" y="1098.02" width="32.50" height="37.93" fill="#ffefe9"/>
<rect x="728.20" y="1095.67" width="37.20" height="42.63" fill="#ffffff"/>
<rect x="730.55" y="1098.02" width="32.50" height="37.93" fill="#ffefe9"/>
<rect x="765.40" y="1095.67" width="37.20" height="42.63" fill="#ffffff"/>
<rect x="767.75" y="1098.02" width="32.50" height="37.93" fill="#fff9f7"/>
<rect x="802.60" y="1095.67" width="37.20" height="42.63" fill="#ffffff"/>
<rect x="804.95" y="1098.02" width="32.50" height="37.93" fill="#ffefe9"/>
<rect x="839.80" y="1095.67" width="37.20" height="42.63" fill="#fffff7"/>
<rect x="842.15" y="1098.02" width="32.50" height="37.93" fill="#ffddd1"/>
<rect x="877.00" y="1095.67" width="37.20" height="42.63" fill="#ffffff"/>
<rect x="879.35" y="1098.02" width="32.50" height="37.93" fill="#fffdfc"/>
<rect x="914.20" y="1095.67" width="37.20" height="42.63" fill="#ffffff"/>
<rect x="916.55" y="1098.02" width="32.50" height="37.93" fill="#e9dfff"/>
<rect x="951.40" y="1095.67" width="37.20" height="42.63" fill="#fffff7"/>
<rect x="953.75" y="1098.02" width="32.50" height="37.93" fill="#ffddd1"/>
<rect x="988.60" y="1095.67" width="37.20" height="42.63" fill="#0036ff"/>
<rect x="990.95" y="1098.02" width="32.50" height="37.93" fill="#002eff"/>
<rect x="1025.80" y="1095.67" width="37.20" height="42.63" fill="#ffffff"/>
<rect x="1028.15" y="1098.02" width="32.50" height="37.93" fill="#fff5f1"/>
<rect x="1063.00" y="1095.67" width="37.20" height="42.63" fill="#ffffff"/>
<rect x="1065.35" y="1098.02" width="32.50" height="37.93" fill="#ffebe4"/>
<rect x="1100.20" y="1095.67" width="37.20" height="42.63" fill="#ffffff"/>
<rect x="1102.55" y="1098.02" width="32.50" height="37.93" fill="#e5daff"/>
<rect x="1174.60" y="1095.67" width="37.20" height="42.63" fill="#ffffff"/>
<rect x="1176.95" y="1098.02" width="32.50" height="37.93" fill="#f8f5ff"/>
<rect x="1211.80" y="1095.67" width="37.20" height="42.63" fill="#ffeeff"/>
<rect x="1214.15" y="1098.02" width="32.50" height="37.93" fill="#d9caff"/>
<rect x="1249.00" y="1095.67" width="37.20" height="42.63" fill="#f9e5ff"/>
<rect x="1251.35" y="1098.02" width="32.50" height="37.93" fill="#d3c2ff"/>
<rect x="1286.20" y="1095.67" width="37.20" height="42.63" fill="#ffffff"/>
<rect x="1288.55" y="1098.02" width="32.50" height="37.93" fill="#eee6ff"/>
<rect x="1323.40" y="1095.67" width="37.20" height="42.63" fill="#ffffff"/>
<rect x="1325.75" y="1098.02" width="32.50" height="37.93" fill="#ebe2ff"/>
<rect x="244.60" y="1138.30" width="37.20" height="42.63" fill="#ffffff"/>
<rect x="246.95" y="1140.65" width="32.50" height="37.93" fill="#f8f5ff"/>
<rect x="281.80" y="1138.30" width="37.20" height="42.63" fill="#ffffff"/>
<rect x="284.15" y="1140.65" width="32.50" height="37.93" fill="#f3eeff"/>
<rect x="319.00" y="1138.30" width="37.20" height="42.63" fill="#ffffff"/>
<rect x="321.35" y="1140.65" width="32.50" height="37.93" fill="#ffe5dc"/>
<rect x="356.20" y="1138.30" width="37.20" height="42.63" fill="#ffffff"/>
<rect x="358.55" y="1140.65" width="32.50" height="37.93" fill="#faf8ff"/>
<rect x="393.40" y="1138.30" width="37.20" height="42.63" fill="#ffffff"/>
<rect x="395.75" y="1140.65" width="32.50" height="37.93" fill="#fff1ec"/>
<rect x="430.60" y="1138.30" width="37.20" height="42.63" fill="#fff3ff"/>
<rect x="432.95" y="1140.65" width="32.50" height="37.93" fill="#dcceff"/>
<rect x="505.00" y="1138.30" width="37.20" height="42.63" fill="#ffffff"/>
<rect x="507.35" y="1140.65" width="32.50" height="37.93" fill="#fff3ef"/>
<rect x="542.20" y="1138.30" width="37.20" height="42.63" fill="#ffffff"/>
<rect x="544.55" y="1140.65" width="32.50" height="37.93" fill="#eee6ff"/>
<rect x="579.40" y="1138.30" width="37.20" height="42.63" fill="#ffffff"/>
<rect x="581.75" y="1140.65" width="32.50" height="37.93" fill="#ebe2ff"/>
<rect x="616.60" y="1138.30" width="37.20" height="42.63" fill="#f9e5ff"/>
<rect x="618.95" y="1140.65" width="32.50" height="37.93" fill="#d3c2ff"/>
<rect x="653.80" y="1138.30" width="37.20" height="42.63" fill="#ffd6b9"/>
<rect x="656.15" y="1140.65" width="32.50" height="37.93" fill="#ffb59d"/>
<rect x="691.00" y="1138.30" width="37.20" height="42.63" fill="#ffffff"/>
<rect x="693.35" y="1140.65" width="32.50" height="37.93" fill="#eee6ff"/>
<rect x="728.20" y="1138.30" width="37.20" height="42.63" fill="#ffffff"/>
<rect x="730.55" y="1140.65" width="32.50" height="37.93" fill="#fff9f7"/>
<rect x="877.00" y="1138.30" width="37.20" height="42.63" fill="#ffffff"/>
<rect x="879.35" y="1140.65" width="32.50" height="37.93" fill="#f3eeff"/>
<rect x="951.40" y="1138.30" width="37.20" height="42.63" fill="#fffff7"/>
<rect x="953.75" y="1140.65" width="32.50" height="37.93" fill="#ffddd1"/>
<rect x="988.60" y="1138.30" width="37.20" height="42.63" fill="#ffffff"/>
<rect x="990.95" y="1140.65" width="32.50" height="37.93" fill="#fff5f1"/>
<rect x="1025.80" y="1138.30" width="37.20" height="42.63" fill="#0036ff"/>
<rect x="1028.15" y="1140.65" width="32.50" height="37.93" fill="#002eff"/>
<rect x="1063.00" y="1138.30" width="37.20" height="42.63" fill="#d1b6ff"/>
<rect x="1065.35" y="1140.65" width="32.50" height="37.93" fill="#b19aff"/>
<rect x="1100.20" y="1138.30" width="37.20" height="42.63" fill="#fffdff"/>
<rect x="1102.55" y="1140.65" width="32.50" height="37.93" fill="#e2d6ff"/>
<rect x="1137.40" y="1138.30" width="37.20" height="42.63" fill="#eed8ff"/>
<rect x="1139.75" y="1140.65" width="32.50" height="37.93" fill="#cab7ff"/>
<rect x="1174.60" y="1138.30" width="37.20" height="42.63" fill="#ffffff"/>
<rect x="1176.95" y="1140.65" width="32.50" height="37.93" fill="#e9dfff"/>
<rect x="1211.80" y="1138.30" width="37.20" height="42.63" fill="#ffffff"/>
<rect x="1214.15" y="1140.65" width="32.50" height="37.93" fill="#ffefe9"/>
<rect x="1249.00" y="1138.30" width="37.20" height="42.63" fill="#ffffff"/>
<rect x="1251.35" y="1140.65" width="32.50" height="37.93" fill="#fcfaff"/>
<rect x="1286.20" y="1138.30" width="37.20" height="42.63" fill="#ffffff"/>
<rect x="1288.55" y="1140.65" width="32.50" height="37.93" fill="#f2ebff"/>
<rect x="1323.40" y="1138.30" width="37.20" height="42.63" fill="#eed8ff"/>
<rect x="1325.75" y="1140.65" width="32.50" height="37.93" fill="#cab7ff"/>
<rect x="244.60" y="1180.93" width="37.20" height="42.63" fill="#fff3ff"/>
<rect x="246.95" y="1183.28" width="32.50" height="37.93" fill="#dcceff"/>
<rect x="281.80" y="1180.93" width="37.20" height="42.63" fill="#fff2de"/>
<rect x="284.15" y="1183.28" width="32.50" height="37.93" fill="#ffcdbc"/>
<rect x="319.00" y="1180.93" width="37.20" height="42.63" fill="#ffe6ce"/>
<rect x="321.35" y="1183.28" width="32.50" height="37.93" fill="#ffc3af"/>
<rect x="356.20" y="1180.93" width="37.20" height="42.63" fill="#ffffff"/>
<rect x="358.55" y="1183.28" width="32.50" height="37.93" fill="#e5daff"/>
<rect x="393.40" y="1180.93" width="37.20" height="42.63" fill="#ffffff"/>
<rect x="395.75" y="1183.28" width="32.50" height="37.93" fill="#faf8ff"/>
<rect x="467.80" y="1180.93" width="37.20" height="42.63" fill="#ffffff"/>
<rect x="470.15" y="1183.28" width="32.50" height="37.93" fill="#ffebe4"/>
<rect x="505.00" y="1180.93" width="37.20" height="42.63" fill="#ffffff"/>
<rect x="507.35" y="1183.28" width="32.50" height="37.93" fill="#e9dfff"/>
<rect x="542.20" y="1180.93" width="37.20" height="42.63" fill="#fffdff"/>
<rect x="544.55" y="1183.28" width="32.50" height="37.93" fill="#e2d6ff"/>
<rect x="579.40" y="1180.93" width="37.20" height="42.63" fill="#ffffff"/>
<rect x="581.75" y="1183.28" width="32.50" height="37.93" fill="#f8f5ff"/>
<rect x="616.60" y="1180.93" width="37.20" height="42.63" fill="#f4e0ff"/>
<rect x="618.95" y="1183.28" width="32.50" height="37.93" fill="#cfbeff"/>
<rect x="653.80" y="1180.93" width="37.20" height="42.63" fill="#ffceb1"/>
<rect x="656.15" y="1183.28" width="32.50" height="37.93" fill="#ffaf96"/>
<rect x="691.00" y="1180.93" width="37.20" height="42.63" fill="#fffdff"/>
<rect x="693.35" y="1183.28" width="32.50" height="37.93" fill="#e2d6ff"/>
<rect x="728.20" y="1180.93" width="37.20" height="42.63" fill="#ffffff"/>
<rect x="730.55" y="1183.28" width="32.50" height="37.93" fill="#ffe5dc"/>
<rect x="765.40" y="1180.93" width="37.20" height="42.63" fill="#ffffff"/>
<rect x="767.75" y="1183.28" width="32.50" height="37.93" fill="#eee6ff"/>
<rect x="839.80" y="1180.93" width="37.20" height="42.63" fill="#ffffff"/>
<rect x="842.15" y="1183.28" width="32.50" height="37.93" fill="#f5f0ff"/>
<rect x="877.00" y="1180.93" width="37.20" height="42.63" fill="#ffffff"/>
<rect x="879.35" y="1183.28" width="32.50" height="37.93" fill="#f5f0ff"/>
<rect x="914.20" y="1180.93" width="37.20" height="42.63" fill="#ffffff"/>
<rect x="916.55" y="1183.28" width="32.50" height="37.93" fill="#f5f0ff"/>
<rect x="951.40" y="1180.93" width="37.20" height="42.63" fill="#ffdabf"/>
<rect x="953.75" y="1183.28" width="32.50" height="37.93" fill="#ffb9a2"/>
<rect x="988.60" y="1180.93" width="37.20" height="42.63" fill="#ffffff"/>
<rect x="990.95" y="1183.28" width="32.50" height="37.93" fill="#ffebe4"/>
<rect x="1025.80" y="1180.93" width="37.20" height="42.63" fill="#d1b6ff"/>
<rect x="1028.15" y="1183.28" width="32.50" height="37.93" fill="#b19aff"/>
<rect x="1063.00" y="1180.93" width="37.20" height="42.63" fill="#0036ff"/>
<rect x="1065.35" y="1183.28" width="32.50" height="37.93" fill="#002eff"/>
<rect x="1100.20" y="1180.93" width="37.20" height="42.63" fill="#ffeeff"/>
<rect x="1102.55" y="1183.28" width="32.50" height="37.93" fill="#d9caff"/>
<rect x="1137.40" y="1180.93" width="37.20" height="42.63" fill="#f3ddff"/>
<rect x="1139.75" y="1183.28" width="32.50" height="37.93" fill="#cebbff"/>
<rect x="1249.00" y="1180.93" width="37.20" height="42.63" fill="#ffffff"/>
<rect x="1251.35" y="1183.28" width="32.50" height="37.93" fill="#f7f3ff"/>
<rect x="1286.20" y="1180.93" width="37.20" height="42.63" fill="#ffffff"/>
<rect x="1288.55" y="1183.28" width="32.50" height="37.93" fill="#fff9f7"/>
<rect x="1323.40" y="1180.93" width="37.20" height="42.63" fill="#f3ddff"/>
<rect x="1325.75" y="1183.28" width="32.50" height="37.93" fill="#cebbff"/>
<rect x="244.60" y="1223.57" width="37.20" height="42.63" fill="#ffffff"/>
<rect x="246.95" y="1225.92" width="32.50" height="37.93" fill="#fffdfc"/>
<rect x="281.80" y="1223.57" width="37.20" height="42.63" fill="#ffffff"/>
<rect x="284.15" y="1225.92" width="32.50" height="37.93" fill="#ffefe9"/>
<rect x="319.00" y="1223.57" width="37.20" height="42.63" fill="#ffffff"/>
<rect x="321.35" y="1225.92" width="32.50" height="37.93" fill="#fff7f4"/>
<rect x="356.20" y="1223.57" width="37.20" height="42.63" fill="#fff9ff"/>
<rect x="358.55" y="1225.92" width="32.50" height="37.93" fill="#e0d3ff"/>
<rect x="393.40" y="1223.57" width="37.20" height="42.63" fill="#fffeed"/>
<rect x="395.75" y="1225.92" width="32.50" height="37.93" fill="#ffd7c9"/>
<rect x="430.60" y="1223.57" width="37.20" height="42.63" fill="#ffffff"/>
<rect x="432.95" y="1225.92" width="32.50" height="37.93" fill="#faf8ff"/>
<rect x="467.80" y="1223.57" width="37.20" height="42.63" fill="#ffffff"/>
<rect x="470.15" y="1225.92" width="32.50" height="37.93" fill="#ffefe9"/>
<rect x="505.00" y="1223.57" width="37.20" height="42.63" fill="#ffffff"/>
<rect x="507.35" y="1225.92" width="32.50" height="37.93" fill="#fff1ec"/>
<rect x="542.20" y="1223.57" width="37.20" height="42.63" fill="#ffffff"/>
<rect x="544.55" y="1225.92" width="32.50" height="37.93" fill="#ebe2ff"/>
<rect x="579.40" y="1223.57" width="37.20" height="42.63" fill="#ffffff"/>
<rect x="581.75" y="1225.92" width="32.50" height="37.93" fill="#f5f0ff"/>
<rect x="616.60" y="1223.57" width="37.20" height="42.63" fill="#f4e0ff"/>
<rect x="618.95" y="1225.92" width="32.50" height="37.93" fill="#cfbeff"/>
<rect x="653.80" y="1223.57" width="37.20" height="42.63" fill="#ffdfc5"/>
<rect x="656.15" y="1225.92" width="32.50" height="37.93" fill="#ffbda7"/>
<rect x="691.00" y="1223.57" width="37.20" height="42.63" fill="#ffffff"/>
<rect x="693.35" y="1225.92" width="32.50" height="37.93" fill="#f7f3ff"/>
<rect x="728.20" y="1223.57" width="37.20" height="42.63" fill="#ffffff"/>
<rect x="730.55" y="1225.92" width="32.50" height="37.93" fill="#f8f5ff"/>
<rect x="765.40" y="1223.57" width="37.20" height="42.63" fill="#ffffff"/>
<rect x="767.75" y="1225.92" width="32.50" height="37.93" fill="#f5f0ff"/>
<rect x="802.60" y="1223.57" width="37.20" height="42.63" fill="#ffffff"/>
<rect x="804.95" y="1225.92" width="32.50" height="37.93" fill="#f5f0ff"/>
<rect x="839.80" y="1223.57" width="37.20" height="42.63" fill="#ffffff"/>
<rect x="842.15" y="1225.92" width="32.50" height="37.93" fill="#ffe7df"/>
<rect x="877.00" y="1223.57" width="37.20" height="42.63" fill="#fff3ff"/>
<rect x="879.35" y="1225.92" width="32.50" height="37.93" fill="#dcceff"/>
<rect x="914.20" y="1223.57" width="37.20" height="42.63" fill="#ffffff"/>
<rect x="916.55" y="1225.92" width="32.50" height="37.93" fill="#eee6ff"/>
<rect x="951.40" y="1223.57" width="37.20" height="42.63" fill="#fff9e7"/>
<rect x="953.75" y="1225.92" width="32.50" height="37.93" fill="#ffd3c4"/>
<rect x="988.60" y="1223.57" width="37.20" height="42.63" fill="#ffffff"/>
<rect x="990.95" y="1225.92" width="32.50" height="37.93" fill="#e5daff"/>
<rect x="1025.80" y="1223.57" width="37.20" height="42.63" fill="#fffdff"/>
<rect x="1028.15" y="1225.92" width="32.50" height="37.93" fill="#e2d6ff"/>
<rect x="1063.00" y="1223.57" width="37.20" height="42.63" fill="#ffeeff"/>
<rect x="1065.35" y="1225.92" width="32.50" height="37.93" fill="#d9caff"/>
<rect x="1100.20" y="1223.57" width="37.20" height="42.63" fill="#0036ff"/>
<rect x="1102.55" y="1225.92" width="32.50" height="37.93" fill="#002eff"/>
<rect x="1137.40" y="1223.57" width="37.20" height="42.63" fill="#ffffff"/>
<rect x="1139.75" y="1225.92" width="32.50" height="37.93" fill="#f2ebff"/>
<rect x="1174.60" y="1223.57" width="37.20" height="42.63" fill="#fbe8ff"/>
<rect x="1176.95" y="1225.92" width="32.50" height="37.93" fill="#d5c5ff"/>
<rect x="1211.80" y="1223.57" width="37.20" height="42.63" fill="#e7ceff"/>
<rect x="1214.15" y="1225.92" width="32.50" height="37.93" fill="#c4afff"/>
<rect x="1249.00" y="1223.57" width="37.20" height="42.63" fill="#ffffff"/>
<rect x="1251.35" y="1225.92" width="32.50" height="37.93" fill="#ebe2ff"/>
<rect x="1286.20" y="1223.57" width="37.20" height="42.63" fill="#ffffff"/>
<rect x="1288.55" y="1225.92" width="32.50" height="37.93" fill="#f5f0ff"/>
<rect x="1323.40" y="1223.57" width="37.20" height="42.63" fill="#a58aff"/>
<rect x="1325.75" y="1225.92" width="32.50" height="37.93" fill="#8c75ff"/>
<rect x="244.60" y="1266.20" width="37.20" height="42.63" fill="#ffffff"/>
<rect x="246.95" y="1268.55" width="32.50" height="37.93" fill="#f3eeff"/>
<rect x="281.80" y="1266.20" width="37.20" height="42.63" fill="#ffffff"/>
<rect x="284.15" y="1268.55" width="32.50" height="37.93" fill="#ffebe4"/>
<rect x="319.00" y="1266.20" width="37.20" height="42.63" fill="#ffffff"/>
<rect x="321.35" y="1268.55" width="32.50" height="37.93" fill="#fff7f4"/>
<rect x="356.20" y="1266.20" width="37.20" height="42.63" fill="#ffffff"/>
<rect x="358.55" y="1268.55" width="32.50" height="37.93" fill="#f8f5ff"/>
<rect x="393.40" y="1266.20" width="37.20" height="42.63" fill="#ffffff"/>
<rect x="395.75" y="1268.55" width="32.50" height="37.93" fill="#f5f0ff"/>
<rect x="430.60" y="1266.20" width="37.20" height="42.63" fill="#ffffff"/>
<rect x="432.95" y="1268.55" width="32.50" height="37.93" fill="#f2ebff"/>
<rect x="467.80" y="1266.20" width="37.20" height="42.63" fill="#ffffff"/>
<rect x="470.15" y="1268.55" width="32.50" height="37.93" fill="#ebe2ff"/>
<rect x="505.00" y="1266.20" width="37.20" height="42.63" fill="#f4e0ff"/>
<rect x="507.35" y="1268.55" width="32.50" height="37.93" fill="#cfbeff"/>
<rect x="542.20" y="1266.20" width="37.20" height="42.63" fill="#f3ddff"/>
<rect x="544.55" y="1268.55" width="32.50" height="37.93" fill="#cebbff"/>
<rect x="579.40" y="1266.20" width="37.20" height="42.63" fill="#f9e5ff"/>
<rect x="581.75" y="1268.55" width="32.50" height="37.93" fill="#d3c2ff"/>
<rect x="616.60" y="1266.20" width="37.20" height="42.63" fill="#e0c6ff"/>
<rect x="618.95" y="1268.55" width="32.50" height="37.93" fill="#bea8ff"/>
<rect x="653.80" y="1266.20" width="37.20" height="42.63" fill="#ffd3b7"/>
<rect x="656.15" y="1268.55" width="32.50" height="37.93" fill="#ffb39b"/>
<rect x="691.00" y="1266.20" width="37.20" height="42.63" fill="#fffdff"/>
<rect x="693.35" y="1268.55" width="32.50" height="37.93" fill="#e2d6ff"/>
<rect x="728.20" y="1266.20" width="37.20" height="42.63" fill="#fffdff"/>
<rect x="730.55" y="1268.55" width="32.50" height="37.93" fill="#e2d6ff"/>
<rect x="765.40" y="1266.20" width="37.20" height="42.63" fill="#fffdff"/>
<rect x="767.75" y="1268.55" width="32.50" height="37.93" fill="#e2d6ff"/>
<rect x="802.60" y="1266.20" width="37.20" height="42.63" fill="#ffffff"/>
<rect x="804.95" y="1268.55" width="32.50" height="37.93" fill="#ffebe4"/>
<rect x="839.80" y="1266.20" width="37.20" height="42.63" fill="#ffffff"/>
<rect x="842.15" y="1268.55" width="32.50" height="37.93" fill="#ffebe4"/>
<rect x="877.00" y="1266.20" width="37.20" height="42.63" fill="#ffffff"/>
<rect x="879.35" y="1268.55" width="32.50" height="37.93" fill="#fdfdff"/>
<rect x="914.20" y="1266.20" width="37.20" height="42.63" fill="#ffffff"/>
<rect x="916.55" y="1268.55" width="32.50" height="37.93" fill="#ffe5dc"/>
<rect x="951.40" y="1266.20" width="37.20" height="42.63" fill="#fff2de"/>
<rect x="953.75" y="1268.55" width="32.50" height="37.93" fill="#ffcdbc"/>
<rect x="1025.80" y="1266.20" width="37.20" height="42.63" fill="#eed8ff"/>
<rect x="1028.15" y="1268.55" width="32.50" height="37.93" fill="#cab7ff"/>
<rect x="1063.00" y="1266.20" width="37.20" height="42.63" fill="#f3ddff"/>
<rect x="1065.35" y="1268.55" width="32.50" height="37.93" fill="#cebbff"/>
<rect x="1100.20" y="1266.20" width="37.20" height="42.63" fill="#ffffff"/>
<rect x="1102.55" y="1268.55" width="32.50" height="37.93" fill="#f2ebff"/>
<rect x="1137.40" y="1266.20" width="37.20" height="42.63" fill="#0036ff"/>
<rect x="1139.75" y="1268.55" width="32.50" height="37.93" fill="#002eff"/>
<rect x="1211.80" y="1266.20" width="37.20" height="42.63" fill="#fffff4"/>
<rect x="1214.15" y="1268.55" width="32.50" height="37.93" fill="#ffdbcf"/>
<rect x="1249.00" y="1266.20" width="37.20" height="42.63" fill="#f9e5ff"/>
<rect x="1251.35" y="1268.55" width="32.50" height="37.93" fill="#d3c2ff"/>
<rect x="1286.20" y="1266.20" width="37.20" height="42.63" fill="#fffdff"/>
<rect x="1288.55" y="1268.55" width="32.50" height="37.93" fill="#e2d6ff"/>
<rect x="1323.40" y="1266.20" width="37.20" height="42.63" fill="#f4e0ff"/>
<rect x="1325.75" y="1268.55" width="32.50" height="37.93" fill="#cfbeff"/>
<rect x="244.60" y="1308.83" width="37.20" height="42.63" fill="#ffffff"/>
<rect x="246.95" y="1311.18" width="32.50" height="37.93" fill="#ffefe9"/>
<rect x="281.80" y="1308.83" width="37.20" height="42.63" fill="#ffffff"/>
<rect x="284.15" y="1311.18" width="32.50" height="37.93" fill="#ffe5dc"/>
<rect x="319.00" y="1308.83" width="37.20" height="42.63" fill="#ffffff"/>
<rect x="321.35" y="1311.18" width="32.50" height="37.93" fill="#fff5f1"/>
<rect x="356.20" y="1308.83" width="37.20" height="42.63" fill="#ffffff"/>
<rect x="358.55" y="1311.18" width="32.50" height="37.93" fill="#e9dfff"/>
<rect x="393.40" y="1308.83" width="37.20" height="42.63" fill="#ffffff"/>
<rect x="395.75" y="1311.18" width="32.50" height="37.93" fill="#f2ebff"/>
<rect x="430.60" y="1308.83" width="37.20" height="42.63" fill="#ffffff"/>
<rect x="432.95" y="1311.18" width="32.50" height="37.93" fill="#ffe5dc"/>
<rect x="467.80" y="1308.83" width="37.20" height="42.63" fill="#ffdabf"/>
<rect x="470.15" y="1311.18" width="32.50" height="37.93" fill="#ffb9a2"/>
<rect x="505.00" y="1308.83" width="37.20" height="42.63" fill="#ffffff"/>
<rect x="507.35" y="1311.18" width="32.50" height="37.93" fill="#fff3ef"/>
<rect x="542.20" y="1308.83" width="37.20" height="42.63" fill="#ffffff"/>
<rect x="544.55" y="1311.18" width="32.50" height="37.93" fill="#e5daff"/>
<rect x="579.40" y="1308.83" width="37.20" height="42.63" fill="#ffffff"/>
<rect x="581.75" y="1311.18" width="32.50" height="37.93" fill="#e9dfff"/>
<rect x="616.60" y="1308.83" width="37.20" height="42.63" fill="#fff9ff"/>
<rect x="618.95" y="1311.18" width="32.50" height="37.93" fill="#e0d3ff"/>
<rect x="653.80" y="1308.83" width="37.20" height="42.63" fill="#ffdfc5"/>
<rect x="656.15" y="1311.18" width="32.50" height="37.93" fill="#ffbda7"/>
<rect x="691.00" y="1308.83" width="37.20" height="42.63" fill="#ffffff"/>
<rect x="693.35" y="1311.18" width="32.50" height="37.93" fill="#fff9f7"/>
<rect x="728.20" y="1308.83" width="37.20" height="42.63" fill="#ffffff"/>
<rect x="730.55" y="1311.18" width="32.50" height="37.93" fill="#ffefe9"/>
<rect x="765.40" y="1308.83" width="37.20" height="42.63" fill="#ffffff"/>
<rect x="767.75" y="1311.18" width="32.50" height="37.93" fill="#f7f3ff"/>
<rect x="802.60" y="1308.83" width="37.20" height="42.63" fill="#ffffff"/>
<rect x="804.95" y="1311.18" width="32.50" height="37.93" fill="#fff1ec"/>
<rect x="839.80" y="1308.83" width="37.20" height="42.63" fill="#ffffff"/>
<rect x="842.15" y="1311.18" width="32.50" height="37.93" fill="#fffdfc"/>
<rect x="877.00" y="1308.83" width="37.20" height="42.63" fill="#ffffff"/>
<rect x="879.35" y="1311.18" width="32.50" height="37.93" fill="#fffdfc"/>
<rect x="914.20" y="1308.83" width="37.20" height="42.63" fill="#feebff"/>
<rect x="916.55" y="1311.18" width="32.50" height="37.93" fill="#d7c7ff"/>
<rect x="951.40" y="1308.83" width="37.20" height="42.63" fill="#ffffff"/>
<rect x="953.75" y="1311.18" width="32.50" height="37.93" fill="#fff3ef"/>
<rect x="988.60" y="1308.83" width="37.20" height="42.63" fill="#ffffff"/>
<rect x="990.95" y="1311.18" width="32.50" height="37.93" fill="#f8f5ff"/>
<rect x="1025.80" y="1308.83" width="37.20" height="42.63" fill="#ffffff"/>
<rect x="1028.15" y="1311.18" width="32.50" height="37.93" fill="#e9dfff"/>
<rect x="1100.20" y="1308.83" width="37.20" height="42.63" fill="#fbe8ff"/>
<rect x="1102.55" y="1311.18" width="32.50" height="37.93" fill="#d5c5ff"/>
<rect x="1174.60" y="1308.83" width="37.20" height="42.63" fill="#0036ff"/>
<rect x="1176.95" y="1311.18" width="32.50" height="37.93" fill="#002eff"/>
<rect x="1211.80" y="1308.83" width="37.20" height="42.63" fill="#fffdff"/>
<rect x="1214.15" y="1311.18" width="32.50" height="37.93" fill="#e2d6ff"/>
<rect x="1249.00" y="1308.83" width="37.20" height="42.63" fill="#fff3ff"/>
<rect x="1251.35" y="1311.18" width="32.50" height="37.93" fill="#dcceff"/>
<rect x="1286.20" y="1308.83" width="37.20" height="42.63" fill="#ffffff"/>
<rect x="1288.55" y="1311.18" width="32.50" height="37.93" fill="#ffefe9"/>
<rect x="1323.40" y="1308.83" width="37.20" height="42.63" fill="#ffffff"/>
<rect x="1325.75" y="1311.18" width="32.50" height="37.93" fill="#ebe2ff"/>
<rect x="244.60" y="1351.47" width="37.20" height="42.63" fill="#fffeed"/>
<rect x="246.95" y="1353.82" width="32.50" height="37.93" fill="#ffd7c9"/>
<rect x="281.80" y="1351.47" width="37.20" height="42.63" fill="#ffffff"/>
<rect x="284.15" y="1353.82" width="32.50" height="37.93" fill="#fff1ec"/>
<rect x="319.00" y="1351.47" width="37.20" height="42.63" fill="#fff3ff"/>
<rect x="321.35" y="1353.82" width="32.50" height="37.93" fill="#dcceff"/>
<rect x="356.20" y="1351.47" width="37.20" height="42.63" fill="#ffffff"/>
<rect x="358.55" y="1353.82" width="32.50" height="37.93" fill="#fff5f1"/>
<rect x="393.40" y="1351.47" width="37.20" height="42.63" fill="#ffffff"/>
<rect x="395.75" y="1353.82" width="32.50" height="37.93" fill="#fff3ef"/>
<rect x="430.60" y="1351.47" width="37.20" height="42.63" fill="#ffffff"/>
<rect x="432.95" y="1353.82" width="32.50" height="37.93" fill="#ffefe9"/>
<rect x="467.80" y="1351.47" width="37.20" height="42.63" fill="#ffffff"/>
<rect x="470.15" y="1353.82" width="32.50" height="37.93" fill="#f3eeff"/>
<rect x="505.00" y="1351.47" width="37.20" height="42.63" fill="#ffffff"/>
<rect x="507.35" y="1353.82" width="32.50" height="37.93" fill="#fff3ef"/>
<rect x="542.20" y="1351.47" width="37.20" height="42.63" fill="#ffffff"/>
<rect x="544.55" y="1353.82" width="32.50" height="37.93" fill="#fff9f7"/>
<rect x="579.40" y="1351.47" width="37.20" height="42.63" fill="#e7ceff"/>
<rect x="581.75" y="1353.82" width="32.50" height="37.93" fill="#c4afff"/>
<rect x="616.60" y="1351.47" width="37.20" height="42.63" fill="#ffffff"/>
<rect x="618.95" y="1353.82" width="32.50" height="37.93" fill="#f5f0ff"/>
<rect x="653.80" y="1351.47" width="37.20" height="42.63" fill="#fffff7"/>
<rect x="656.15" y="1353.82" width="32.50" height="37.93" fill="#ffddd1"/>
<rect x="691.00" y="1351.47" width="37.20" height="42.63" fill="#ffffff"/>
<rect x="693.35" y="1353.82" width="32.50" height="37.93" fill="#f5f0ff"/>
<rect x="728.20" y="1351.47" width="37.20" height="42.63" fill="#ffffff"/>
<rect x="730.55" y="1353.82" width="32.50" height="37.93" fill="#f3eeff"/>
<rect x="765.40" y="1351.47" width="37.20" height="42.63" fill="#ffffff"/>
<rect x="767.75" y="1353.82" width="32.50" height="37.93" fill="#eee6ff"/>
<rect x="802.60" y="1351.47" width="37.20" height="42.63" fill="#fff9e7"/>
<rect x="804.95" y="1353.82" width="32.50" height="37.93" fill="#ffd3c4"/>
<rect x="839.80" y="1351.47" width="37.20" height="42.63" fill="#fff2de"/>
<rect x="842.15" y="1353.82" width="32.50" height="37.93" fill="#ffcdbc"/>
<rect x="877.00" y="1351.47" width="37.20" height="42.63" fill="#fffffe"/>
<rect x="879.35" y="1353.82" width="32.50" height="37.93" fill="#ffe1d7"/>
<rect x="914.20" y="1351.47" width="37.20" height="42.63" fill="#ffffff"/>
<rect x="916.55" y="1353.82" width="32.50" height="37.93" fill="#f3eeff"/>
<rect x="951.40" y="1351.47" width="37.20" height="42.63" fill="#fffff7"/>
<rect x="953.75" y="1353.82" width="32.50" height="37.93" fill="#ffddd1"/>
<rect x="988.60" y="1351.47" width="37.20" height="42.63" fill="#ffeeff"/>
<rect x="990.95" y="1353.82" width="32.50" height="37.93" fill="#d9caff"/>
<rect x="1025.80" y="1351.47" width="37.20" height="42.63" fill="#ffffff"/>
<rect x="1028.15" y="1353.82" width="32.50" height="37.93" fill="#ffefe9"/>
<rect x="1100.20" y="1351.47" width="37.20" height="42.63" fill="#e7ceff"/>
<rect x="1102.55" y="1353.82" width="32.50" height="37.93" fill="#c4afff"/>
<rect x="1137.40" y="1351.47" width="37.20" height="42.63" fill="#fffff4"/>
<rect x="1139.75" y="1353.82" width="32.50" height="37.93" fill="#ffdbcf"/>
<rect x="1174.60" y="1351.47" width="37.20" height="42.63" fill="#fffdff"/>
<rect x="1176.95" y="1353.82" width="32.50" height="37.93" fill="#e2d6ff"/>
<rect x="1211.80" y="1351.47" width="37.20" height="42.63" fill="#0036ff"/>
<rect x="1214.15" y="1353.82" width="32.50" height="37.93" fill="#002eff"/>
<rect x="1249.00" y="1351.47" width="37.20" height="42.63" fill="#ffffff"/>
<rect x="1251.35" y="1353.82" width="32.50" height="37.93" fill="#ebe2ff"/>
<rect x="1286.20" y="1351.47" width="37.20" height="42.63" fill="#fffff4"/>
<rect x="1288.55" y="1353.82" width="32.50" height="37.93" fill="#ffdbcf"/>
<rect x="1323.40" y="1351.47" width="37.20" height="42.63" fill="#e7ceff"/>
<rect x="1325.75" y="1353.82" width="32.50" height="37.93" fill="#c4afff"/>
<rect x="244.60" y="1394.10" width="37.20" height="42.63" fill="#ffffff"/>
<rect x="246.95" y="1396.45" width="32.50" height="37.93" fill="#fff3ef"/>
<rect x="281.80" y="1394.10" width="37.20" height="42.63" fill="#ffffff"/>
<rect x="284.15" y="1396.45" width="32.50" height="37.93" fill="#fff5f1"/>
<rect x="319.00" y="1394.10" width="37.20" height="42.63" fill="#ffffff"/>
<rect x="321.35" y="1396.45" width="32.50" height="37.93" fill="#f2ebff"/>
<rect x="356.20" y="1394.10" width="37.20" height="42.63" fill="#fffff7"/>
<rect x="358.55" y="1396.45" width="32.50" height="37.93" fill="#ffddd1"/>
<rect x="393.40" y="1394.10" width="37.20" height="42.63" fill="#ffffff"/>
<rect x="395.75" y="1396.45" width="32.50" height="37.93" fill="#ffe7df"/>
<rect x="430.60" y="1394.10" width="37.20" height="42.63" fill="#ffffff"/>
<rect x="432.95" y="1396.45" width="32.50" height="37.93" fill="#ffe7df"/>
<rect x="467.80" y="1394.10" width="37.20" height="42.63" fill="#ffffff"/>
<rect x="470.15" y="1396.45" width="32.50" height="37.93" fill="#fff3ef"/>
<rect x="505.00" y="1394.10" width="37.20" height="42.63" fill="#ffffff"/>
<rect x="507.35" y="1396.45" width="32.50" height="37.93" fill="#eee6ff"/>
<rect x="542.20" y="1394.10" width="37.20" height="42.63" fill="#ffffff"/>
<rect x="544.55" y="1396.45" width="32.50" height="37.93" fill="#e9dfff"/>
<rect x="579.40" y="1394.10" width="37.20" height="42.63" fill="#ffffff"/>
<rect x="581.75" y="1396.45" width="32.50" height="37.93" fill="#ebe2ff"/>
<rect x="616.60" y="1394.10" width="37.20" height="42.63" fill="#ffffff"/>
<rect x="618.95" y="1396.45" width="32.50" height="37.93" fill="#f2ebff"/>
<rect x="653.80" y="1394.10" width="37.20" height="42.63" fill="#fff9e7"/>
<rect x="656.15" y="1396.45" width="32.50" height="37.93" fill="#ffd3c4"/>
<rect x="691.00" y="1394.10" width="37.20" height="42.63" fill="#ffffff"/>
<rect x="693.35" y="1396.45" width="32.50" height="37.93" fill="#ffebe4"/>
<rect x="728.20" y="1394.10" width="37.20" height="42.63" fill="#feebff"/>
<rect x="730.55" y="1396.45" width="32.50" height="37.93" fill="#d7c7ff"/>
<rect x="765.40" y="1394.10" width="37.20" height="42.63" fill="#ffffff"/>
<rect x="767.75" y="1396.45" width="32.50" height="37.93" fill="#ece4ff"/>
<rect x="802.60" y="1394.10" width="37.20" height="42.63" fill="#ffffff"/>
<rect x="804.95" y="1396.45" width="32.50" height="37.93" fill="#fcfaff"/>
<rect x="877.00" y="1394.10" width="37.20" height="42.63" fill="#ffffff"/>
<rect x="879.35" y="1396.45" width="32.50" height="37.93" fill="#fcfaff"/>
<rect x="914.20" y="1394.10" width="37.20" height="42.63" fill="#ffffff"/>
<rect x="916.55" y="1396.45" width="32.50" height="37.93" fill="#fffdfc"/>
<rect x="951.40" y="1394.10" width="37.20" height="42.63" fill="#fff9e7"/>
<rect x="953.75" y="1396.45" width="32.50" height="37.93" fill="#ffd3c4"/>
<rect x="988.60" y="1394.10" width="37.20" height="42.63" fill="#f9e5ff"/>
<rect x="990.95" y="1396.45" width="32.50" height="37.93" fill="#d3c2ff"/>
<rect x="1025.80" y="1394.10" width="37.20" height="42.63" fill="#ffffff"/>
<rect x="1028.15" y="1396.45" width="32.50" height="37.93" fill="#fcfaff"/>
<rect x="1063.00" y="1394.10" width="37.20" height="42.63" fill="#ffffff"/>
<rect x="1065.35" y="1396.45" width="32.50" height="37.93" fill="#f7f3ff"/>
<rect x="1100.20" y="1394.10" width="37.20" height="42.63" fill="#ffffff"/>
<rect x="1102.55" y="1396.45" width="32.50" height="37.93" fill="#ebe2ff"/>
<rect x="1137.40" y="1394.10" width="37.20" height="42.63" fill="#f9e5ff"/>
<rect x="1139.75" y="1396.45" width="32.50" height="37.93" fill="#d3c2ff"/>
<rect x="1174.60" y="1394.10" width="37.20" height="42.63" fill="#fff3ff"/>
<rect x="1176.95" y="1396.45" width="32.50" height="37.93" fill="#dcceff"/>
<rect x="1211.80" y="1394.10" width="37.20" height="42.63" fill="#ffffff"/>
<rect x="1214.15" y="1396.45" width="32.50" height="37.93" fill="#ebe2ff"/>
<rect x="1249.00" y="1394.10" width="37.20" height="42.63" fill="#0036ff"/>
<rect x="1251.35" y="1396.45" width="32.50" height="37.93" fill="#002eff"/>
<rect x="1286.20" y="1394.10" width="37.20" height="42.63" fill="#ffffff"/>
<rect x="1288.55" y="1396.45" width="32.50" height="37.93" fill="#f0e9ff"/>
<rect x="1323.40" y="1394.10" width="37.20" height="42.63" fill="#ffffff"/>
<rect x="1325.75" y="1396.45" width="32.50" height="37.93" fill="#ebe2ff"/>
<rect x="244.60" y="1436.73" width="37.20" height="42.63" fill="#ffffff"/>
<rect x="246.95" y="1439.08" width="32.50" height="37.93" fill="#fff3ef"/>
<rect x="281.80" y="1436.73" width="37.20" height="42.63" fill="#ffffff"/>
<rect x="284.15" y="1439.08" width="32.50" height="37.93" fill="#faf8ff"/>
<rect x="319.00" y="1436.73" width="37.20" height="42.63" fill="#fff3ff"/>
<rect x="321.35" y="1439.08" width="32.50" height="37.93" fill="#dcceff"/>
<rect x="356.20" y="1436.73" width="37.20" height="42.63" fill="#fffff4"/>
<rect x="358.55" y="1439.08" width="32.50" height="37.93" fill="#ffdbcf"/>
<rect x="393.40" y="1436.73" width="37.20" height="42.63" fill="#fff9e7"/>
<rect x="395.75" y="1439.08" width="32.50" height="37.93" fill="#ffd3c4"/>
<rect x="430.60" y="1436.73" width="37.20" height="42.63" fill="#ffffff"/>
<rect x="432.95" y="1439.08" width="32.50" height="37.93" fill="#f2ebff"/>
<rect x="467.80" y="1436.73" width="37.20" height="42.63" fill="#ffffff"/>
<rect x="470.15" y="1439.08" width="32.50" height="37.93" fill="#f5f0ff"/>
<rect x="505.00" y="1436.73" width="37.20" height="42.63" fill="#ffffff"/>
<rect x="507.35" y="1439.08" width="32.50" height="37.93" fill="#eee6ff"/>
<rect x="542.20" y="1436.73" width="37.20" height="42.63" fill="#ffffff"/>
<rect x="544.55" y="1439.08" width="32.50" height="37.93" fill="#f2ebff"/>
<rect x="579.40" y="1436.73" width="37.20" height="42.63" fill="#ffffff"/>
<rect x="581.75" y="1439.08" width="32.50" height="37.93" fill="#f5f0ff"/>
<rect x="616.60" y="1436.73" width="37.20" height="42.63" fill="#ffffff"/>
<rect x="618.95" y="1439.08" width="32.50" height="37.93" fill="#f2ebff"/>
<rect x="653.80" y="1436.73" width="37.20" height="42.63" fill="#ffffff"/>
<rect x="656.15" y="1439.08" width="32.50" height="37.93" fill="#fff1ec"/>
<rect x="691.00" y="1436.73" width="37.20" height="42.63" fill="#ffffff"/>
<rect x="693.35" y="1439.08" width="32.50" height="37.93" fill="#f2ebff"/>
<rect x="728.20" y="1436.73" width="37.20" height="42.63" fill="#ffffff"/>
<rect x="730.55" y="1439.08" width="32.50" height="37.93" fill="#f8f5ff"/>
<rect x="765.40" y="1436.73" width="37.20" height="42.63" fill="#ffffff"/>
<rect x="767.75" y="1439.08" width="32.50" height="37.93" fill="#fff5f1"/>
<rect x="802.60" y="1436.73" width="37.20" height="42.63" fill="#ffffff"/>
<rect x="804.95" y="1439.08" width="32.50" height="37.93" fill="#f3eeff"/>
<rect x="839.80" y="1436.73" width="37.20" height="42.63" fill="#fff9e7"/>
<rect x="842.15" y="1439.08" width="32.50" height="37.93" fill="#ffd3c4"/>
<rect x="877.00" y="1436.73" width="37.20" height="42.63" fill="#ffffff"/>
<rect x="879.35" y="1439.08" width="32.50" height="37.93" fill="#f7f3ff"/>
<rect x="914.20" y="1436.73" width="37.20" height="42.63" fill="#ffffff"/>
<rect x="916.55" y="1439.08" width="32.50" height="37.93" fill="#f7f3ff"/>
<rect x="988.60" y="1436.73" width="37.20" height="42.63" fill="#ffffff"/>
<rect x="990.95" y="1439.08" width="32.50" height="37.93" fill="#eee6ff"/>
<rect x="1025.80" y="1436.73" width="37.20" height="42.63" fill="#ffffff"/>
<rect x="1028.15" y="1439.08" width="32.50" height="37.93" fill="#f2ebff"/>
<rect x="1063.00" y="1436.73" width="37.20" height="42.63" fill="#ffffff"/>
<rect x="1065.35" y="1439.08" width="32.50" height="37.93" fill="#fff9f7"/>
<rect x="1100.20" y="1436.73" width="37.20" height="42.63" fill="#ffffff"/>
<rect x="1102.55" y="1439.08" width="32.50" height="37.93" fill="#f5f0ff"/>
<rect x="1137.40" y="1436.73" width="37.20" height="42.63" fill="#fffdff"/>
<rect x="1139.75" y="1439.08" width="32.50" height="37.93" fill="#e2d6ff"/>
<rect x="1174.60" y="1436.73" width="37.20" height="42.63" fill="#ffffff"/>
<rect x="1176.95" y="1439.08" width="32.50" height="37.93" fill="#ffefe9"/>
<rect x="1211.80" y="1436.73" width="37.20" height="42.63" fill="#fffff4"/>
<rect x="1214.15" y="1439.08" width="32.50" height="37.93" fill="#ffdbcf"/>
<rect x="1249.00" y="1436.73" width="37.20" height="42.63" fill="#ffffff"/>
<rect x="1251.35" y="1439.08" width="32.50" height="37.93" fill="#f0e9ff"/>
<rect x="1286.20" y="1436.73" width="37.20" height="42.63" fill="#0036ff"/>
<rect x="1288.55" y="1439.08" width="32.50" height="37.93" fill="#002eff"/>
<rect x="1323.40" y="1436.73" width="37.20" height="42.63" fill="#ffffff"/>
<rect x="1325.75" y="1439.08" width="32.50" height="37.93" fill="#f5f0ff"/>
<rect x="244.60" y="1479.37" width="37.20" height="42.63" fill="#ffffff"/>
<rect x="246.95" y="1481.72" width="32.50" height="37.93" fill="#f8f5ff"/>
<rect x="281.80" y="1479.37" width="37.20" height="42.63" fill="#ffffff"/>
<rect x="284.15" y="1481.72" width="32.50" height="37.93" fill="#ffebe4"/>
<rect x="319.00" y="1479.37" width="37.20" height="42.63" fill="#ffffff"/>
<rect x="321.35" y="1481.72" width="32.50" height="37.93" fill="#fff1ec"/>
<rect x="356.20" y="1479.37" width="37.20" height="42.63" fill="#ffffff"/>
<rect x="358.55" y="1481.72" width="32.50" height="37.93" fill="#f7f3ff"/>
<rect x="393.40" y="1479.37" width="37.20" height="42.63" fill="#fff9e7"/>
<rect x="395.75" y="1481.72" width="32.50" height="37.93" fill="#ffd3c4"/>
<rect x="430.60" y="1479.37" width="37.20" height="42.63" fill="#ffffff"/>
<rect x="432.95" y="1481.72" width="32.50" height="37.93" fill="#ffefe9"/>
<rect x="467.80" y="1479.37" width="37.20" height="42.63" fill="#ffffff"/>
<rect x="470.15" y="1481.72" width="32.50" height="37.93" fill="#f2ebff"/>
<rect x="505.00" y="1479.37" width="37.20" height="42.63" fill="#ffffff"/>
<rect x="507.35" y="1481.72" width="32.50" height="37.93" fill="#ffe7df"/>
<rect x="542.20" y="1479.37" width="37.20" height="42.63" fill="#fffdff"/>
<rect x="544.55" y="1481.72" width="32.50" height="37.93" fill="#e2d6ff"/>
<rect x="579.40" y="1479.37" width="37.20" height="42.63" fill="#ffffff"/>
<rect x="581.75" y="1481.72" width="32.50" height="37.93" fill="#eee6ff"/>
<rect x="616.60" y="1479.37" width="37.20" height="42.63" fill="#eed8ff"/>
<rect x="618.95" y="1481.72" width="32.50" height="37.93" fill="#cab7ff"/>
<rect x="653.80" y="1479.37" width="37.20" height="42.63" fill="#ffceb1"/>
<rect x="656.15" y="1481.72" width="32.50" height="37.93" fill="#ffaf96"/>
<rect x="691.00" y="1479.37" width="37.20" height="42.63" fill="#ffffff"/>
<rect x="693.35" y="1481.72" width="32.50" height="37.93" fill="#ebe2ff"/>
<rect x="728.20" y="1479.37" width="37.20" height="42.63" fill="#fff9ff"/>
<rect x="730.55" y="1481.72" width="32.50" height="37.93" fill="#e0d3ff"/>
<rect x="765.40" y="1479.37" width="37.20" height="42.63" fill="#ffffff"/>
<rect x="767.75" y="1481.72" width="32.50" height="37.93" fill="#f5f0ff"/>
<rect x="839.80" y="1479.37" width="37.20" height="42.63" fill="#ffffff"/>
<rect x="842.15" y="1481.72" width="32.50" height="37.93" fill="#fff1ec"/>
<rect x="877.00" y="1479.37" width="37.20" height="42.63" fill="#ffffff"/>
<rect x="879.35" y="1481.72" width="32.50" height="37.93" fill="#f2ebff"/>
<rect x="914.20" y="1479.37" width="37.20" height="42.63" fill="#ffffff"/>
<rect x="916.55" y="1481.72" width="32.50" height="37.93" fill="#e7ddff"/>
<rect x="951.40" y="1479.37" width="37.20" height="42.63" fill="#ffebd4"/>
<rect x="953.75" y="1481.72" width="32.50" height="37.93" fill="#ffc7b4"/>
<rect x="988.60" y="1479.37" width="37.20" height="42.63" fill="#ffffff"/>
<rect x="990.95" y="1481.72" width="32.50" height="37.93" fill="#ebe2ff"/>
<rect x="1025.80" y="1479.37" width="37.20" height="42.63" fill="#eed8ff"/>
<rect x="1028.15" y="1481.72" width="32.50" height="37.93" fill="#cab7ff"/>
<rect x="1063.00" y="1479.37" width="37.20" height="42.63" fill="#f3ddff"/>
<rect x="1065.35" y="1481.72" width="32.50" height="37.93" fill="#cebbff"/>
<rect x="1100.20" y="1479.37" width="37.20" height="42.63" fill="#a58aff"/>
<rect x="1102.55" y="1481.72" width="32.50" height="37.93" fill="#8c75ff"/>
<rect x="1137.40" y="1479.37" width="37.20" height="42.63" fill="#f4e0ff"/>
<rect x="1139.75" y="1481.72" width="32.50" height="37.93" fill="#cfbeff"/>
<rect x="1174.60" y="1479.37" width="37.20" height="42.63" fill="#ffffff"/>
<rect x="1176.95" y="1481.72" width="32.50" height="37.93" fill="#ebe2ff"/>
<rect x="1211.80" y="1479.37" width="37.20" height="42.63" fill="#e7ceff"/>
<rect x="1214.15" y="1481.72" width="32.50" height="37.93" fill="#c4afff"/>
<rect x="1249.00" y="1479.37" width="37.20" height="42.63" fill="#ffffff"/>
<rect x="1251.35" y="1481.72" width="32.50" height="37.93" fill="#ebe2ff"/>
<rect x="1286.20" y="1479.37" width="37.20" height="42.63" fill="#ffffff"/>
<rect x="1288.55" y="1481.72" width="32.50" height="37.93" fill="#f5f0ff"/>
<rect x="1323.40" y="1479.37" width="37.20" height="42.63" fill="#0036ff"/>
<rect x="1325.75" y="1481.72" width="32.50" height="37.93" fill="#002eff"/>
</g>
<path d="M244.60 242.10V1522.90M243.70 243.00H1361.50M281.80 242.10V1522.90M243.70 285.63H1361.50M319.00 242.10V1522.90M243.70 328.27H1361.50M356.20 242.10V1522.90M243.70 370.90H1361.50M393.40 242.10V1522.90M243.70 413.53H1361.50M430.60 242.10V1522.90M243.70 456.17H1361.50M467.80 242.10V1522.90M243.70 498.80H1361.50M505.00 242.10V1522.90M243.70 541.43H1361.50M542.20 242.10V1522.90M243.70 584.07H1361.50M579.40 242.10V1522.90M243.70 626.70H1361.50M616.60 242.10V1522.90M243.70 669.33H1361.50M653.80 242.10V1522.90M243.70 711.97H1361.50M691.00 242.10V1522.90M243.70 754.60H1361.50M728.20 242.10V1522.90M243.70 797.23H1361.50M765.40 242.10V1522.90M243.70 839.87H1361.50M802.60 242.10V1522.90M243.70 882.50H1361.50M839.80 242.10V1522.90M243.70 925.13H1361.50M877.00 242.10V1522.90M243.70 967.77H1361.50M914.20 242.10V1522.90M243.70 1010.40H1361.50M951.40 242.10V1522.90M243.70 1053.03H1361.50M988.60 242.10V1522.90M243.70 1095.67H1361.50M1025.80 242.10V1522.90M243.70 1138.30H1361.50M1063.00 242.10V1522.90M243.70 1180.93H1361.50M1100.20 242.10V1522.90M243.70 1223.57H1361.50M1137.40 242.10V1522.90M243.70 1266.20H1361.50M1174.60 242.10V1522.90M243.70 1308.83H1361.50M1211.80 242.10V1522.90M243.70 1351.47H1361.50M1249.00 242.10V1522.90M243.70 1394.10H1361.50M1286.20 242.10V1522.90M243.70 1436.73H1361.50M1323.40 242.10V1522.90M243.70 1479.37H1361.50M1360.60 242.10V1522.90M243.70 1522.00H1361.50" stroke="#000" stroke-width="1.80" fill="none"/>
<g font-size="23.60" text-anchor="middle">
<text transform="translate(448.80 272.02) scale(1.040 1)">*</text>
<text transform="translate(337.20 314.65) scale(1.040 1)">*</text>
<text transform="translate(374.40 314.65) scale(1.040 1)">*</text>
<text transform="translate(969.60 314.65) scale(1.040 1)">*</text>
<text transform="translate(300.00 357.28) scale(1.040 1)">*</text>
<text transform="translate(374.40 357.28) scale(1.040 1)">*</text>
<text transform="translate(411.60 357.28) scale(1.040 1)">*</text>
<text transform="translate(1081.20 357.28) scale(1.040 1)">*</text>
<text transform="translate(300.00 399.92) scale(1.040 1)">*</text>
<text transform="translate(337.20 399.92) scale(1.040 1)">*</text>
<text transform="translate(448.80 399.92) scale(1.040 1)">*</text>
<text transform="translate(337.20 442.55) scale(1.040 1)">*</text>
<text transform="translate(448.80 442.55) scale(1.040 1)">*</text>
<text transform="translate(560.40 442.55) scale(1.040 1)">*</text>
<text transform="translate(262.80 485.18) scale(1.040 1)">*</text>
<text transform="translate(374.40 485.18) scale(1.040 1)">*</text>
<text transform="translate(411.60 485.18) scale(1.040 1)">*</text>
<text transform="translate(634.80 485.18) scale(1.040 1)">*</text>
<text transform="translate(672.00 485.18) scale(1.040 1)">*</text>
<text transform="translate(932.40 485.18) scale(1.040 1)">*</text>
<text transform="translate(523.20 527.82) scale(1.040 1)">*</text>
<text transform="translate(1192.80 527.82) scale(1.040 1)">*</text>
<text transform="translate(486.00 570.45) scale(1.040 1)">*</text>
<text transform="translate(1155.60 570.45) scale(1.040 1)">*</text>
<text transform="translate(411.60 613.08) scale(1.040 1)">*</text>
<text transform="translate(709.20 613.08) scale(1.040 1)">*</text>
<text transform="translate(1155.60 613.08) scale(1.040 1)">*</text>
<text transform="translate(672.00 655.72) scale(1.040 1)">*</text>
<text transform="translate(709.20 655.72) scale(1.040 1)">*</text>
<text transform="translate(746.40 655.72) scale(1.040 1)">*</text>
<text transform="translate(1155.60 655.72) scale(1.040 1)">*</text>
<text transform="translate(1230.00 655.72) scale(1.040 1)">*</text>
<text transform="translate(448.80 698.35) scale(1.040 1)">*</text>
<text transform="translate(672.00 698.35) scale(1.040 1)">*</text>
<text transform="translate(969.60 698.35) scale(1.040 1)">*</text>
<text transform="translate(1044.00 698.35) scale(1.040 1)">*</text>
<text transform="translate(1081.20 698.35) scale(1.040 1)">*</text>
<text transform="translate(1118.40 698.35) scale(1.040 1)">*</text>
<text transform="translate(1155.60 698.35) scale(1.040 1)">*</text>
<text transform="translate(1341.60 698.35) scale(1.040 1)">*</text>
<text transform="translate(448.80 740.98) scale(1.040 1)">*</text>
<text transform="translate(597.60 740.98) scale(1.040 1)">*</text>
<text transform="translate(634.80 740.98) scale(1.040 1)">*</text>
<text transform="translate(969.60 740.98) scale(1.040 1)">*</text>
<text transform="translate(1044.00 740.98) scale(1.040 1)">*</text>
<text transform="translate(1081.20 740.98) scale(1.040 1)">*</text>
<text transform="translate(1118.40 740.98) scale(1.040 1)">*</text>
<text transform="translate(1155.60 740.98) scale(1.040 1)">*</text>
<text transform="translate(1192.80 740.98) scale(1.040 1)">*</text>
<text transform="translate(1341.60 740.98) scale(1.040 1)">*</text>
<text transform="translate(560.40 783.62) scale(1.040 1)">*</text>
<text transform="translate(597.60 783.62) scale(1.040 1)">*</text>
<text transform="translate(932.40 783.62) scale(1.040 1)">*</text>
<text transform="translate(597.60 826.25) scale(1.040 1)">*</text>
<text transform="translate(1267.20 826.25) scale(1.040 1)">*</text>
<text transform="translate(858.00 911.52) scale(1.040 1)">*</text>
<text transform="translate(895.20 911.52) scale(1.040 1)">*</text>
<text transform="translate(820.80 954.15) scale(1.040 1)">*</text>
<text transform="translate(895.20 954.15) scale(1.040 1)">*</text>
<text transform="translate(820.80 996.78) scale(1.040 1)">*</text>
<text transform="translate(858.00 996.78) scale(1.040 1)">*</text>
<text transform="translate(448.80 1039.42) scale(1.040 1)">*</text>
<text transform="translate(709.20 1039.42) scale(1.040 1)">*</text>
<text transform="translate(1192.80 1039.42) scale(1.040 1)">*</text>
<text transform="translate(300.00 1082.05) scale(1.040 1)">*</text>
<text transform="translate(634.80 1082.05) scale(1.040 1)">*</text>
<text transform="translate(672.00 1082.05) scale(1.040 1)">*</text>
<text transform="translate(1081.20 1082.05) scale(1.040 1)">*</text>
<text transform="translate(1155.60 1082.05) scale(1.040 1)">*</text>
<text transform="translate(1341.60 1082.05) scale(1.040 1)">*</text>
<text transform="translate(1230.00 1124.68) scale(1.040 1)">*</text>
<text transform="translate(1267.20 1124.68) scale(1.040 1)">*</text>
<text transform="translate(634.80 1167.32) scale(1.040 1)">*</text>
<text transform="translate(672.00 1167.32) scale(1.040 1)">*</text>
<text transform="translate(1081.20 1167.32) scale(1.040 1)">*</text>
<text transform="translate(1155.60 1167.32) scale(1.040 1)">*</text>
<text transform="translate(1341.60 1167.32) scale(1.040 1)">*</text>
<text transform="translate(337.20 1209.95) scale(1.040 1)">*</text>
<text transform="translate(634.80 1209.95) scale(1.040 1)">*</text>
<text transform="translate(672.00 1209.95) scale(1.040 1)">*</text>
<text transform="translate(969.60 1209.95) scale(1.040 1)">*</text>
<text transform="translate(1044.00 1209.95) scale(1.040 1)">*</text>
<text transform="translate(1118.40 1209.95) scale(1.040 1)">*</text>
<text transform="translate(1155.60 1209.95) scale(1.040 1)">*</text>
<text transform="translate(1341.60 1209.95) scale(1.040 1)">*</text>
<text transform="translate(634.80 1252.58) scale(1.040 1)">*</text>
<text transform="translate(672.00 1252.58) scale(1.040 1)">*</text>
<text transform="translate(1081.20 1252.58) scale(1.040 1)">*</text>
<text transform="translate(1192.80 1252.58) scale(1.040 1)">*</text>
<text transform="translate(1230.00 1252.58) scale(1.040 1)">*</text>
<text transform="translate(1341.60 1252.58) scale(1.040 1)">*</text>
<text transform="translate(523.20 1295.22) scale(1.040 1)">*</text>
<text transform="translate(560.40 1295.22) scale(1.040 1)">*</text>
<text transform="translate(597.60 1295.22) scale(1.040 1)">*</text>
<text transform="translate(634.80 1295.22) scale(1.040 1)">*</text>
<text transform="translate(672.00 1295.22) scale(1.040 1)">*</text>
<text transform="translate(969.60 1295.22) scale(1.040 1)">*</text>
<text transform="translate(1044.00 1295.22) scale(1.040 1)">*</text>
<text transform="translate(1081.20 1295.22) scale(1.040 1)">*</text>
<text transform="translate(1267.20 1295.22) scale(1.040 1)">*</text>
<text transform="translate(1341.60 1295.22) scale(1.040 1)">*</text>
<text transform="translate(486.00 1337.85) scale(1.040 1)">*</text>
<text transform="translate(672.00 1337.85) scale(1.040 1)">*</text>
<text transform="translate(932.40 1337.85) scale(1.040 1)">*</text>
<text transform="translate(1118.40 1337.85) scale(1.040 1)">*</text>
<text transform="translate(597.60 1380.48) scale(1.040 1)">*</text>
<text transform="translate(1006.80 1380.48) scale(1.040 1)">*</text>
<text transform="translate(1118.40 1380.48) scale(1.040 1)">*</text>
<text transform="translate(1341.60 1380.48) scale(1.040 1)">*</text>
<text transform="translate(746.40 1423.12) scale(1.040 1)">*</text>
<text transform="translate(1006.80 1423.12) scale(1.040 1)">*</text>
<text transform="translate(1155.60 1423.12) scale(1.040 1)">*</text>
<text transform="translate(634.80 1508.38) scale(1.040 1)">*</text>
<text transform="translate(672.00 1508.38) scale(1.040 1)">*</text>
<text transform="translate(969.60 1508.38) scale(1.040 1)">*</text>
<text transform="translate(1044.00 1508.38) scale(1.040 1)">*</text>
<text transform="translate(1081.20 1508.38) scale(1.040 1)">*</text>
<text transform="translate(1118.40 1508.38) scale(1.040 1)">*</text>
<text transform="translate(1155.60 1508.38) scale(1.040 1)">*</text>
<text transform="translate(1230.00 1508.38) scale(1.040 1)">*</text>
</g>
<g font-size="23.60" text-anchor="end">
<text transform="translate(236.00 273.62) scale(1.040 1)">Bilophila</text>
<text transform="translate(236.00 316.25) scale(1.040 1)">Enterobacter</text>
<text transform="translate(236.00 358.88) scale(1.040 1)">Escherichia_Shigella</text>
<text transform="translate(236.00 401.52) scale(1.040 1)">Faecalibacterium</text>
<text transform="translate(236.00 444.15) scale(1.040 1)">Haemophilus</text>
<text transform="translate(236.00 486.78) scale(1.040 1)">Veillonella</text>
<text transform="translate(236.00 529.42) scale(1.040 1)">ALT</text>
<text transform="translate(236.00 572.05) scale(1.040 1)">AST</text>
<text transform="translate(236.00 614.68) scale(1.040 1)">TBIL</text>
<text transform="translate(236.00 657.32) scale(1.040 1)">UREA</text>
<text transform="translate(236.00 699.95) scale(1.040 1)">CREA</text>
<text transform="translate(236.00 742.58) scale(1.040 1)">eGFR</text>
<text transform="translate(236.00 785.22) scale(1.040 1)">UA</text>
<text transform="translate(236.00 827.85) scale(1.040 1)">GLU</text>
<text transform="translate(236.00 870.48) scale(1.040 1)">TG</text>
<text transform="translate(236.00 913.12) scale(1.040 1)">TC</text>
<text transform="translate(236.00 955.75) scale(1.040 1)">HDL-C</text>
<text transform="translate(236.00 998.38) scale(1.040 1)">LDL-C</text>
<text transform="translate(236.00 1041.02) scale(1.040 1)">TMAO</text>
<text transform="translate(236.00 1083.65) scale(1.040 1)">Urinary TMAO</text>
<text transform="translate(236.00 1126.28) scale(1.040 1)">FMO3</text>
<text transform="translate(236.00 1168.92) scale(1.040 1)">TNF-α</text>
<text transform="translate(236.00 1211.55) scale(1.040 1)">IL-6</text>
<text transform="translate(236.00 1254.18) scale(1.040 1)">NF-kB</text>
<text transform="translate(236.00 1296.82) scale(1.040 1)">KIM-1</text>
<text transform="translate(236.00 1339.45) scale(1.040 1)">NGAL</text>
<text transform="translate(236.00 1382.08) scale(1.040 1)">IL-18</text>
<text transform="translate(236.00 1424.72) scale(1.040 1)">PERK</text>
<text transform="translate(236.00 1467.35) scale(1.040 1)">CaMK II</text>
<text transform="translate(236.00 1509.98) scale(1.040 1)">ANG-II</text>
</g>
<g font-size="24.24" text-anchor="start">
<text transform="translate(272.10 234.40) scale(1.012 1) rotate(-90)">Bilophila</text>
<text transform="translate(309.30 234.40) scale(1.012 1) rotate(-90)">Enterobacter</text>
<text transform="translate(346.50 234.40) scale(1.012 1) rotate(-90)">Escherichia_Shigella</text>
<text transform="translate(383.70 234.40) scale(1.012 1) rotate(-90)">Faecalibacterium</text>
<text transform="translate(420.90 234.40) scale(1.012 1) rotate(-90)">Haemophilus</text>
<text transform="translate(458.10 234.40) scale(1.012 1) rotate(-90)">Veillonella</text>
<text transform="translate(495.30 234.40) scale(1.012 1) rotate(-90)">ALT</text>
<text transform="translate(532.50 234.40) scale(1.012 1) rotate(-90)">AST</text>
<text transform="translate(569.70 234.40) scale(1.012 1) rotate(-90)">TBIL</text>
<text transform="translate(606.90 234.40) scale(1.012 1) rotate(-90)">UREA</text>
<text transform="translate(644.10 234.40) scale(1.012 1) rotate(-90)">CREA</text>
<text transform="translate(681.30 234.40) scale(1.012 1) rotate(-90)">eGFR</text>
<text transform="translate(718.50 234.40) scale(1.012 1) rotate(-90)">UA</text>
<text transform="translate(755.70 234.40) scale(1.012 1) rotate(-90)">GLU</text>
<text transform="translate(792.90 234.40) scale(1.012 1) rotate(-90)">TG</text>
<text transform="translate(830.10 234.40) scale(1.012 1) rotate(-90)">TC</text>
<text transform="translate(867.30 234.40) scale(1.012 1) rotate(-90)">HDL-C</text>
<text transform="translate(904.50 234.40) scale(1.012 1) rotate(-90)">LDL-C</text>
<text transform="translate(941.70 234.40) scale(1.012 1) rotate(-90)">TMAO</text>
<text transform="translate(978.90 234.40) scale(1.012 1) rotate(-90)">Urinary TMAO</text>
<text transform="translate(1016.10 234.40) scale(1.012 1) rotate(-90)">FMO3</text>
<text transform="translate(1053.30 234.40) scale(1.012 1) rotate(-90)">TNF-α</text>
<text transform="translate(1090.50 234.40) scale(1.012 1) rotate(-90)">IL-6</text>
<text transform="translate(1127.70 234.40) scale(1.012 1) rotate(-90)">NF-kB</text>
<text transform="translate(1164.90 234.40) scale(1.012 1) rotate(-90)">KIM-1</text>
<text transform="translate(1202.10 234.40) scale(1.012 1) rotate(-90)">NGAL</text>
<text transform="translate(1239.30 234.40) scale(1.012 1) rotate(-90)">IL-18</text>
<text transform="translate(1276.50 234.40) scale(1.012 1) rotate(-90)">PERK</text>
<text transform="translate(1313.70 234.40) scale(1.012 1) rotate(-90)">CaMK II</text>
<text transform="translate(1350.90 234.40) scale(1.012 1) rotate(-90)">ANG-II</text>
</g>
<text font-size="25.90" font-weight="bold" transform="translate(1375.30 804.40) scale(1.040 1)">Spearman r</text>
<defs><linearGradient id="lg" x1="0" y1="0" x2="0" y2="1"><stop offset="0.0000" stop-color="#002eff"/><stop offset="0.0250" stop-color="#002eff"/><stop offset="0.0500" stop-color="#1737ff"/><stop offset="0.0750" stop-color="#4347ff"/><stop offset="0.1000" stop-color="#5851ff"/><stop offset="0.1250" stop-color="#6a5bff"/><stop offset="0.1500" stop-color="#7866ff"/><stop offset="0.1750" stop-color="#8570ff"/><stop offset="0.2000" stop-color="#917bff"/><stop offset="0.2250" stop-color="#9d85ff"/><stop offset="0.2500" stop-color="#a790ff"/><stop offset="0.2750" stop-color="#b19aff"/><stop offset="0.3000" stop-color="#bba5ff"/><stop offset="0.3250" stop-color="#c4b0ff"/><stop offset="0.3500" stop-color="#cdbbff"/><stop offset="0.3750" stop-color="#d6c6ff"/><stop offset="0.4000" stop-color="#dfd1ff"/><stop offset="0.4250" stop-color="#e7dcff"/><stop offset="0.4500" stop-color="#efe7ff"/><stop offset="0.4750" stop-color="#f7f3ff"/><stop offset="0.5000" stop-color="#fefeff"/><stop offset="0.5250" stop-color="#fff5f2"/><stop offset="0.5500" stop-color="#ffebe4"/><stop offset="0.5750" stop-color="#ffe1d6"/><stop offset="0.6000" stop-color="#ffd6c8"/><stop offset="0.6250" stop-color="#ffccbb"/><stop offset="0.6500" stop-color="#ffc1ad"/><stop offset="0.6750" stop-color="#ffb7a0"/><stop offset="0.7000" stop-color="#ffac92"/><stop offset="0.7250" stop-color="#ffa185"/><stop offset="0.7500" stop-color="#ff9678"/><stop offset="0.7750" stop-color="#ff8b6b"/><stop offset="0.8000" stop-color="#ff7f5f"/><stop offset="0.8250" stop-color="#ff7352"/><stop offset="0.8500" stop-color="#ff6745"/><stop offset="0.8750" stop-color="#ff5938"/><stop offset="0.9000" stop-color="#ff4a2b"/><stop offset="0.9250" stop-color="#ff381d"/><stop offset="0.9500" stop-color="#ff1e0c"/><stop offset="0.9750" stop-color="#ff0000"/><stop offset="1.0000" stop-color="#ff0000"/></linearGradient></defs>
<rect x="1374.50" y="818.20" width="33.00" height="162.60" fill="url(#lg)"/>
<path d="M1374.50 824.70h8.00M1399.50 824.70h8.00M1374.50 862.25h8.00M1399.50 862.25h8.00M1374.50 937.35h8.00M1399.50 937.35h8.00M1374.50 974.90h8.00M1399.50 974.90h8.00" stroke="#fff" stroke-width="1.8" fill="none"/>
<g font-size="26.00">
<text transform="translate(1412.90 834.70) scale(1.050 1)">1</text>
<text transform="translate(1412.90 872.25) scale(1.050 1)">0.5</text>
<text transform="translate(1412.90 909.80) scale(1.050 1)">0</text>
<text transform="translate(1412.90 947.35) scale(1.050 1)">-0.5</text>
<text transform="translate(1412.90 984.90) scale(1.050 1)">-1</text>
</g>
</svg></body></html>
